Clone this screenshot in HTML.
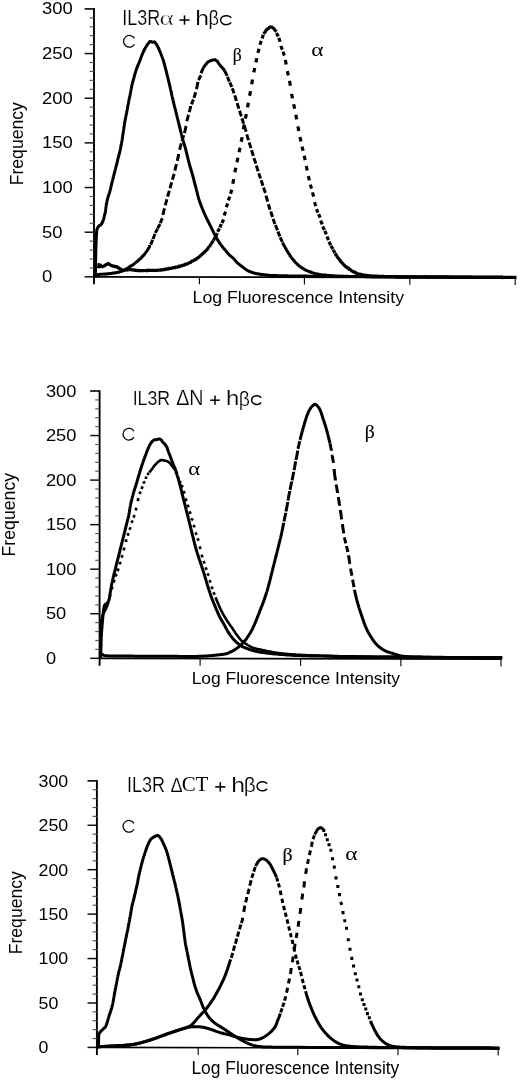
<!DOCTYPE html>
<html><head><meta charset="utf-8"><title>Flow cytometry histograms</title>
<style>html,body{margin:0;padding:0;background:#fff;}svg{display:block;will-change:transform;}</style></head>
<body><svg width="520" height="1081" viewBox="0 0 520 1081">
<rect width="520" height="1081" fill="#fff"/>
<line x1="94.0" y1="8.1" x2="94.0" y2="284.35" stroke="#000" stroke-width="1.9"/>
<line x1="94.0" y1="276.85" x2="515.8000000000001" y2="277.60" stroke="#000" stroke-width="1.6"/>
<line x1="199.4" y1="277.04" x2="199.4" y2="284.34" stroke="#000" stroke-width="1.1"/>
<line x1="304.4" y1="277.22" x2="304.4" y2="284.52" stroke="#000" stroke-width="1.1"/>
<line x1="409.8" y1="277.41" x2="409.8" y2="284.71" stroke="#000" stroke-width="1.1"/>
<line x1="515.2" y1="277.60" x2="515.2" y2="284.90" stroke="#000" stroke-width="1.1"/>
<line x1="84.6" y1="276.85" x2="94.0" y2="276.85" stroke="#111" stroke-width="1.5"/>
<line x1="89.6" y1="267.92" x2="94.0" y2="267.92" stroke="#555" stroke-width="1.15"/>
<line x1="89.6" y1="258.99" x2="94.0" y2="258.99" stroke="#555" stroke-width="1.15"/>
<line x1="89.6" y1="250.06" x2="94.0" y2="250.06" stroke="#555" stroke-width="1.15"/>
<line x1="89.6" y1="241.12" x2="94.0" y2="241.12" stroke="#555" stroke-width="1.15"/>
<line x1="84.6" y1="232.19" x2="94.0" y2="232.19" stroke="#111" stroke-width="1.5"/>
<line x1="89.6" y1="223.26" x2="94.0" y2="223.26" stroke="#555" stroke-width="1.15"/>
<line x1="89.6" y1="214.33" x2="94.0" y2="214.33" stroke="#555" stroke-width="1.15"/>
<line x1="89.6" y1="205.40" x2="94.0" y2="205.40" stroke="#555" stroke-width="1.15"/>
<line x1="89.6" y1="196.47" x2="94.0" y2="196.47" stroke="#555" stroke-width="1.15"/>
<line x1="84.6" y1="187.53" x2="94.0" y2="187.53" stroke="#111" stroke-width="1.5"/>
<line x1="89.6" y1="178.60" x2="94.0" y2="178.60" stroke="#555" stroke-width="1.15"/>
<line x1="89.6" y1="169.67" x2="94.0" y2="169.67" stroke="#555" stroke-width="1.15"/>
<line x1="89.6" y1="160.74" x2="94.0" y2="160.74" stroke="#555" stroke-width="1.15"/>
<line x1="89.6" y1="151.81" x2="94.0" y2="151.81" stroke="#555" stroke-width="1.15"/>
<line x1="84.6" y1="142.88" x2="94.0" y2="142.88" stroke="#111" stroke-width="1.5"/>
<line x1="89.6" y1="133.94" x2="94.0" y2="133.94" stroke="#555" stroke-width="1.15"/>
<line x1="89.6" y1="125.01" x2="94.0" y2="125.01" stroke="#555" stroke-width="1.15"/>
<line x1="89.6" y1="116.08" x2="94.0" y2="116.08" stroke="#555" stroke-width="1.15"/>
<line x1="89.6" y1="107.15" x2="94.0" y2="107.15" stroke="#555" stroke-width="1.15"/>
<line x1="84.6" y1="98.22" x2="94.0" y2="98.22" stroke="#111" stroke-width="1.5"/>
<line x1="89.6" y1="89.28" x2="94.0" y2="89.28" stroke="#555" stroke-width="1.15"/>
<line x1="89.6" y1="80.35" x2="94.0" y2="80.35" stroke="#555" stroke-width="1.15"/>
<line x1="89.6" y1="71.42" x2="94.0" y2="71.42" stroke="#555" stroke-width="1.15"/>
<line x1="89.6" y1="62.49" x2="94.0" y2="62.49" stroke="#555" stroke-width="1.15"/>
<line x1="84.6" y1="53.56" x2="94.0" y2="53.56" stroke="#111" stroke-width="1.5"/>
<line x1="89.6" y1="44.63" x2="94.0" y2="44.63" stroke="#555" stroke-width="1.15"/>
<line x1="89.6" y1="35.69" x2="94.0" y2="35.69" stroke="#555" stroke-width="1.15"/>
<line x1="89.6" y1="26.76" x2="94.0" y2="26.76" stroke="#555" stroke-width="1.15"/>
<line x1="89.6" y1="17.83" x2="94.0" y2="17.83" stroke="#555" stroke-width="1.15"/>
<line x1="84.6" y1="8.90" x2="94.0" y2="8.90" stroke="#111" stroke-width="1.7"/>
<g transform="translate(42.03,14.44) scale(1.0870,0.9875)"><text font-family="Liberation Sans" font-size="17">300</text></g>
<g transform="translate(42.03,59.09) scale(1.0870,0.9875)"><text font-family="Liberation Sans" font-size="17">250</text></g>
<g transform="translate(42.03,103.75) scale(1.0870,0.9875)"><text font-family="Liberation Sans" font-size="17">200</text></g>
<g transform="translate(42.03,148.41) scale(1.0870,0.9875)"><text font-family="Liberation Sans" font-size="17">150</text></g>
<g transform="translate(42.03,193.07) scale(1.0870,0.9875)"><text font-family="Liberation Sans" font-size="17">100</text></g>
<g transform="translate(42.03,237.73) scale(1.0870,0.9875)"><text font-family="Liberation Sans" font-size="17">50</text></g>
<g transform="translate(42.03,282.39) scale(1.0870,0.9875)"><text font-family="Liberation Sans" font-size="17">0</text></g>
<line x1="99.6" y1="390.2" x2="99.6" y2="665.8" stroke="#000" stroke-width="1.9"/>
<line x1="99.6" y1="658.3" x2="501.6" y2="659.10" stroke="#000" stroke-width="1.8"/>
<line x1="200.1" y1="658.50" x2="200.1" y2="665.80" stroke="#000" stroke-width="1.1"/>
<line x1="300.6" y1="658.70" x2="300.6" y2="666.00" stroke="#000" stroke-width="1.1"/>
<line x1="400.9" y1="658.90" x2="400.9" y2="666.20" stroke="#000" stroke-width="1.1"/>
<line x1="501.0" y1="659.10" x2="501.0" y2="666.40" stroke="#000" stroke-width="1.1"/>
<line x1="90.19999999999999" y1="658.30" x2="99.6" y2="658.30" stroke="#111" stroke-width="1.5"/>
<line x1="95.19999999999999" y1="649.39" x2="99.6" y2="649.39" stroke="#555" stroke-width="1.15"/>
<line x1="95.19999999999999" y1="640.48" x2="99.6" y2="640.48" stroke="#555" stroke-width="1.15"/>
<line x1="95.19999999999999" y1="631.57" x2="99.6" y2="631.57" stroke="#555" stroke-width="1.15"/>
<line x1="95.19999999999999" y1="622.66" x2="99.6" y2="622.66" stroke="#555" stroke-width="1.15"/>
<line x1="90.19999999999999" y1="613.75" x2="99.6" y2="613.75" stroke="#111" stroke-width="1.5"/>
<line x1="95.19999999999999" y1="604.84" x2="99.6" y2="604.84" stroke="#555" stroke-width="1.15"/>
<line x1="95.19999999999999" y1="595.93" x2="99.6" y2="595.93" stroke="#555" stroke-width="1.15"/>
<line x1="95.19999999999999" y1="587.02" x2="99.6" y2="587.02" stroke="#555" stroke-width="1.15"/>
<line x1="95.19999999999999" y1="578.11" x2="99.6" y2="578.11" stroke="#555" stroke-width="1.15"/>
<line x1="90.19999999999999" y1="569.20" x2="99.6" y2="569.20" stroke="#111" stroke-width="1.5"/>
<line x1="95.19999999999999" y1="560.29" x2="99.6" y2="560.29" stroke="#555" stroke-width="1.15"/>
<line x1="95.19999999999999" y1="551.38" x2="99.6" y2="551.38" stroke="#555" stroke-width="1.15"/>
<line x1="95.19999999999999" y1="542.47" x2="99.6" y2="542.47" stroke="#555" stroke-width="1.15"/>
<line x1="95.19999999999999" y1="533.56" x2="99.6" y2="533.56" stroke="#555" stroke-width="1.15"/>
<line x1="90.19999999999999" y1="524.65" x2="99.6" y2="524.65" stroke="#111" stroke-width="1.5"/>
<line x1="95.19999999999999" y1="515.74" x2="99.6" y2="515.74" stroke="#555" stroke-width="1.15"/>
<line x1="95.19999999999999" y1="506.83" x2="99.6" y2="506.83" stroke="#555" stroke-width="1.15"/>
<line x1="95.19999999999999" y1="497.92" x2="99.6" y2="497.92" stroke="#555" stroke-width="1.15"/>
<line x1="95.19999999999999" y1="489.01" x2="99.6" y2="489.01" stroke="#555" stroke-width="1.15"/>
<line x1="90.19999999999999" y1="480.10" x2="99.6" y2="480.10" stroke="#111" stroke-width="1.5"/>
<line x1="95.19999999999999" y1="471.19" x2="99.6" y2="471.19" stroke="#555" stroke-width="1.15"/>
<line x1="95.19999999999999" y1="462.28" x2="99.6" y2="462.28" stroke="#555" stroke-width="1.15"/>
<line x1="95.19999999999999" y1="453.37" x2="99.6" y2="453.37" stroke="#555" stroke-width="1.15"/>
<line x1="95.19999999999999" y1="444.46" x2="99.6" y2="444.46" stroke="#555" stroke-width="1.15"/>
<line x1="90.19999999999999" y1="435.55" x2="99.6" y2="435.55" stroke="#111" stroke-width="1.5"/>
<line x1="95.19999999999999" y1="426.64" x2="99.6" y2="426.64" stroke="#555" stroke-width="1.15"/>
<line x1="95.19999999999999" y1="417.73" x2="99.6" y2="417.73" stroke="#555" stroke-width="1.15"/>
<line x1="95.19999999999999" y1="408.82" x2="99.6" y2="408.82" stroke="#555" stroke-width="1.15"/>
<line x1="95.19999999999999" y1="399.91" x2="99.6" y2="399.91" stroke="#555" stroke-width="1.15"/>
<line x1="90.19999999999999" y1="391.00" x2="99.6" y2="391.00" stroke="#111" stroke-width="1.7"/>
<g transform="translate(45.88,396.74) scale(1.0741,0.9750)"><text font-family="Liberation Sans" font-size="17">300</text></g>
<g transform="translate(45.88,441.29) scale(1.0741,0.9750)"><text font-family="Liberation Sans" font-size="17">250</text></g>
<g transform="translate(45.88,485.84) scale(1.0741,0.9750)"><text font-family="Liberation Sans" font-size="17">200</text></g>
<g transform="translate(45.88,530.39) scale(1.0741,0.9750)"><text font-family="Liberation Sans" font-size="17">150</text></g>
<g transform="translate(45.88,574.94) scale(1.0741,0.9750)"><text font-family="Liberation Sans" font-size="17">100</text></g>
<g transform="translate(45.88,619.49) scale(1.0741,0.9750)"><text font-family="Liberation Sans" font-size="17">50</text></g>
<g transform="translate(45.88,664.04) scale(1.0741,0.9750)"><text font-family="Liberation Sans" font-size="17">0</text></g>
<line x1="96.9" y1="780.0500000000001" x2="96.9" y2="1054.9" stroke="#000" stroke-width="1.9"/>
<line x1="96.9" y1="1047.4" x2="498.8" y2="1048.30" stroke="#000" stroke-width="1.6"/>
<line x1="198.2" y1="1047.63" x2="198.2" y2="1054.93" stroke="#000" stroke-width="1.1"/>
<line x1="297.8" y1="1047.85" x2="297.8" y2="1055.15" stroke="#000" stroke-width="1.1"/>
<line x1="398.0" y1="1048.07" x2="398.0" y2="1055.37" stroke="#000" stroke-width="1.1"/>
<line x1="498.2" y1="1048.30" x2="498.2" y2="1055.60" stroke="#000" stroke-width="1.1"/>
<line x1="87.5" y1="1047.40" x2="96.9" y2="1047.40" stroke="#111" stroke-width="1.5"/>
<line x1="92.5" y1="1038.52" x2="96.9" y2="1038.52" stroke="#555" stroke-width="1.15"/>
<line x1="92.5" y1="1029.63" x2="96.9" y2="1029.63" stroke="#555" stroke-width="1.15"/>
<line x1="92.5" y1="1020.75" x2="96.9" y2="1020.75" stroke="#555" stroke-width="1.15"/>
<line x1="92.5" y1="1011.86" x2="96.9" y2="1011.86" stroke="#555" stroke-width="1.15"/>
<line x1="87.5" y1="1002.98" x2="96.9" y2="1002.98" stroke="#111" stroke-width="1.5"/>
<line x1="92.5" y1="994.09" x2="96.9" y2="994.09" stroke="#555" stroke-width="1.15"/>
<line x1="92.5" y1="985.21" x2="96.9" y2="985.21" stroke="#555" stroke-width="1.15"/>
<line x1="92.5" y1="976.32" x2="96.9" y2="976.32" stroke="#555" stroke-width="1.15"/>
<line x1="92.5" y1="967.44" x2="96.9" y2="967.44" stroke="#555" stroke-width="1.15"/>
<line x1="87.5" y1="958.55" x2="96.9" y2="958.55" stroke="#111" stroke-width="1.5"/>
<line x1="92.5" y1="949.67" x2="96.9" y2="949.67" stroke="#555" stroke-width="1.15"/>
<line x1="92.5" y1="940.78" x2="96.9" y2="940.78" stroke="#555" stroke-width="1.15"/>
<line x1="92.5" y1="931.90" x2="96.9" y2="931.90" stroke="#555" stroke-width="1.15"/>
<line x1="92.5" y1="923.01" x2="96.9" y2="923.01" stroke="#555" stroke-width="1.15"/>
<line x1="87.5" y1="914.12" x2="96.9" y2="914.12" stroke="#111" stroke-width="1.5"/>
<line x1="92.5" y1="905.24" x2="96.9" y2="905.24" stroke="#555" stroke-width="1.15"/>
<line x1="92.5" y1="896.36" x2="96.9" y2="896.36" stroke="#555" stroke-width="1.15"/>
<line x1="92.5" y1="887.47" x2="96.9" y2="887.47" stroke="#555" stroke-width="1.15"/>
<line x1="92.5" y1="878.59" x2="96.9" y2="878.59" stroke="#555" stroke-width="1.15"/>
<line x1="87.5" y1="869.70" x2="96.9" y2="869.70" stroke="#111" stroke-width="1.5"/>
<line x1="92.5" y1="860.82" x2="96.9" y2="860.82" stroke="#555" stroke-width="1.15"/>
<line x1="92.5" y1="851.93" x2="96.9" y2="851.93" stroke="#555" stroke-width="1.15"/>
<line x1="92.5" y1="843.05" x2="96.9" y2="843.05" stroke="#555" stroke-width="1.15"/>
<line x1="92.5" y1="834.16" x2="96.9" y2="834.16" stroke="#555" stroke-width="1.15"/>
<line x1="87.5" y1="825.28" x2="96.9" y2="825.28" stroke="#111" stroke-width="1.5"/>
<line x1="92.5" y1="816.39" x2="96.9" y2="816.39" stroke="#555" stroke-width="1.15"/>
<line x1="92.5" y1="807.51" x2="96.9" y2="807.51" stroke="#555" stroke-width="1.15"/>
<line x1="92.5" y1="798.62" x2="96.9" y2="798.62" stroke="#555" stroke-width="1.15"/>
<line x1="92.5" y1="789.74" x2="96.9" y2="789.74" stroke="#555" stroke-width="1.15"/>
<line x1="87.5" y1="780.85" x2="96.9" y2="780.85" stroke="#111" stroke-width="1.7"/>
<g transform="translate(38.50,786.74) scale(1.0481,0.9750)"><text font-family="Liberation Sans" font-size="17">300</text></g>
<g transform="translate(38.50,831.16) scale(1.0481,0.9750)"><text font-family="Liberation Sans" font-size="17">250</text></g>
<g transform="translate(38.50,875.59) scale(1.0481,0.9750)"><text font-family="Liberation Sans" font-size="17">200</text></g>
<g transform="translate(38.50,920.01) scale(1.0481,0.9750)"><text font-family="Liberation Sans" font-size="17">150</text></g>
<g transform="translate(38.50,964.44) scale(1.0481,0.9750)"><text font-family="Liberation Sans" font-size="17">100</text></g>
<g transform="translate(38.50,1008.86) scale(1.0481,0.9750)"><text font-family="Liberation Sans" font-size="17">50</text></g>
<g transform="translate(38.50,1053.29) scale(1.0481,0.9750)"><text font-family="Liberation Sans" font-size="17">0</text></g>
<line x1="179.4" y1="20.05" x2="189.6" y2="20.05" stroke="#000" stroke-width="1.55"/><line x1="184.5" y1="15.4" x2="184.5" y2="24.7" stroke="#000" stroke-width="1.55"/>
<path d="M231.25 17.77 A5.79 4.50 0 1 0 231.25 22.53" fill="none" stroke="#000" stroke-width="1.5"/>
<line x1="210.20000000000002" y1="400.2" x2="219.79999999999998" y2="400.2" stroke="#000" stroke-width="1.5"/><line x1="215.0" y1="395.6" x2="215.0" y2="404.7" stroke="#000" stroke-width="1.5"/>
<path d="M261.15 397.74 A5.19 4.45 0 1 0 261.15 402.46" fill="none" stroke="#000" stroke-width="1.5"/>
<line x1="215.20000000000002" y1="786.9" x2="225.39999999999998" y2="786.9" stroke="#000" stroke-width="1.6"/><line x1="220.3" y1="782.1999999999999" x2="220.3" y2="791.6" stroke="#000" stroke-width="1.6"/>
<path d="M267.05 783.81 A5.41 4.60 0 1 0 267.05 788.69" fill="none" stroke="#000" stroke-width="1.5"/>
<path d="M134.47 38.42 A5.85 5.85 0 1 0 134.47 44.27" fill="none" stroke="#000" stroke-width="1.25"/>
<path d="M133.92 431.22 A5.85 5.85 0 1 0 133.92 437.07" fill="none" stroke="#000" stroke-width="1.25"/>
<path d="M133.97 823.43 A5.85 5.85 0 1 0 133.97 829.27" fill="none" stroke="#000" stroke-width="1.25"/>
<path d="M95.4 276.2L95.4 275.3L95.4 274.4L95.4 273.6L95.4 272.7L95.5 271.8L95.5 270.9L95.5 270.1L95.5 269.2L95.5 268.3L95.5 267.4L95.5 266.5L95.5 265.6L95.6 264.7L95.6 263.8L95.6 262.9L95.6 262.0L95.6 261.0L95.6 259.9L95.7 258.8L95.7 257.7L95.7 256.6L95.7 255.5L95.8 254.4L95.8 253.3L95.8 252.1L95.8 251.0L95.9 250.0L95.9 248.9L95.9 247.9L95.9 246.9L96.0 245.9L96.0 245.0L96.0 244.4L96.0 243.7L96.1 243.1L96.1 242.5L96.1 241.9L96.1 241.4L96.2 240.8L96.2 240.2L96.2 239.7L96.2 239.1L96.2 238.6L96.3 238.1L96.3 237.6L96.3 237.0L96.4 236.5L96.4 236.0L96.4 235.6L96.5 235.1L96.5 234.7L96.5 234.2L96.5 233.8L96.5 233.4L96.5 232.9L96.6 232.5L96.6 232.1L96.6 231.7L96.7 231.3L96.7 230.9L96.8 230.5L96.8 230.2L96.9 229.8L97.0 229.5L97.1 229.3L97.1 229.0L97.2 228.8L97.3 228.6L97.4 228.4L97.5 228.1L97.6 227.9L97.7 227.7L97.8 227.5L97.9 227.3L98.0 227.2L98.1 227.0L98.2 226.8L98.3 226.6L98.5 226.5L98.6 226.3L98.7 226.2L98.9 226.0L99.0 225.9L99.2 225.8L99.3 225.7L99.5 225.6L99.6 225.5L99.8 225.5L99.9 225.4L100.1 225.3L100.3 225.2L100.4 225.1L100.6 225.0L100.7 224.9L100.9 224.7L101.0 224.6L101.2 224.4L101.3 224.2L101.4 224.0L101.6 223.8L101.7 223.6L101.8 223.4L102.0 223.2L102.1 223.0L102.2 222.7L102.3 222.5L102.5 222.2L102.6 222.0L102.7 221.8L102.8 221.5L102.9 221.3L103.0 221.0L103.1 220.7L103.2 220.4L103.3 220.1L103.4 219.8L103.5 219.4L103.6 219.1L103.7 218.7L103.8 218.4L103.9 218.1L103.9 217.7L104.0 217.4L104.1 217.0L104.2 216.7L104.3 216.4L104.3 216.1L104.4 215.8L104.5 215.6L104.5 215.4L104.6 215.2L104.6 215.0L104.7 214.8L104.7 214.6L104.8 214.4L104.8 214.2L104.9 214.0L104.9 213.8L105.0 213.6L105.0 213.4L105.1 213.2L105.1 213.0L105.2 212.7L105.2 212.5L105.3 212.1L105.4 211.6L105.4 211.2L105.5 210.7L105.6 210.1L105.6 209.6L105.7 209.1L105.8 208.5L105.9 207.9L105.9 207.4L106.0 206.8L106.1 206.3L106.2 205.7L106.2 205.2L106.3 204.7L106.4 204.2L106.5 203.8L106.5 203.4L106.6 203.0L106.7 202.7L106.8 202.3L106.8 201.9L106.9 201.6L107.0 201.2L107.1 200.8L107.2 200.5L107.2 200.1L107.3 199.8L107.4 199.4L107.5 199.0L107.6 198.7L107.7 198.3L107.8 197.9L107.9 197.5L108.0 197.1L108.2 196.7L108.3 196.3L108.4 195.9L108.6 195.5L108.7 195.1L108.8 194.7L109.0 194.3L109.1 193.8L109.2 193.4L109.4 193.0L109.5 192.6L109.6 192.1L109.8 191.7L109.9 191.2L110.0 190.7L110.1 190.2L110.3 189.7L110.4 189.2L110.5 188.6L110.7 188.1L110.8 187.6L110.9 187.0L111.0 186.5L111.2 186.0L111.3 185.4L111.4 184.9L111.5 184.4L111.7 183.8L111.8 183.3L111.9 182.8L112.1 182.3L112.2 181.7L112.3 181.2L112.5 180.7L112.6 180.2L112.7 179.7L112.8 179.1L113.0 178.6L113.1 178.1L113.2 177.6L113.4 177.1L113.5 176.6L113.6 176.0L113.8 175.5L113.9 175.0L114.0 174.5L114.2 174.0L114.3 173.4L114.4 172.9L114.6 172.4L114.7 171.9L114.8 171.4L115.0 170.9L115.1 170.3L115.2 169.8L115.3 169.3L115.5 168.8L115.6 168.3L115.7 167.7L115.9 167.2L116.0 166.7L116.1 166.2L116.3 165.7L116.4 165.1L116.5 164.6L116.7 164.1L116.8 163.6L116.9 163.0L117.1 162.5L117.2 162.0L117.3 161.4L117.4 160.9L117.6 160.4L117.7 159.9L117.8 159.3L118.0 158.8L118.1 158.3L118.2 157.8L118.4 157.3L118.5 156.7L118.6 156.2L118.8 155.7L118.9 155.2L119.0 154.7L119.2 154.2L119.3 153.6L119.4 153.1L119.6 152.6L119.7 152.1L119.8 151.6L120.0 151.0L120.1 150.5L120.2 150.0L120.3 149.5L120.4 149.0L120.5 148.4L120.6 147.9L120.7 147.4L120.8 146.9L120.9 146.4L121.0 145.9L121.1 145.3L121.2 144.8L121.3 144.3L121.4 143.8L121.5 143.3L121.6 142.7L121.7 142.2L121.8 141.7L121.9 141.2L122.0 140.7L122.1 140.1L122.1 139.6L122.2 139.1L122.3 138.6L122.4 138.0L122.5 137.5L122.6 137.0L122.6 136.5L122.7 135.9L122.8 135.4L122.9 134.9L122.9 134.3L123.0 133.8L123.1 133.3L123.2 132.8L123.3 132.3L123.3 131.7L123.4 131.2L123.5 130.7L123.6 130.1L123.6 129.6L123.7 129.1L123.8 128.5L123.9 128.0L123.9 127.5L124.0 127.0L124.1 126.5L124.2 126.0L124.2 125.5L124.3 125.0L124.4 124.6L124.4 124.2L124.5 123.9L124.5 123.5L124.6 123.1L124.7 122.8L124.7 122.4L124.8 122.1L124.8 121.8L124.9 121.4L125.0 121.1L125.0 120.7L125.1 120.3L125.2 120.0L125.2 119.6L125.3 119.2L125.4 118.7L125.5 118.2L125.6 117.7L125.7 117.2L125.8 116.7L125.9 116.2L126.0 115.6L126.1 115.1L126.2 114.6L126.4 114.0L126.5 113.5L126.6 112.9L126.7 112.4L126.8 111.9L126.9 111.3L127.0 110.8L127.1 110.3L127.2 109.8L127.3 109.2L127.4 108.7L127.5 108.2L127.6 107.7L127.7 107.2L127.7 106.6L127.8 106.1L127.9 105.6L128.0 105.1L128.1 104.6L128.2 104.1L128.3 103.5L128.4 103.0L128.5 102.5L128.6 102.0L128.7 101.5L128.8 100.9L128.9 100.4L129.0 99.9L129.1 99.4L129.2 98.9L129.3 98.4L129.5 97.8L129.6 97.3L129.7 96.8L129.8 96.3L129.9 95.8L130.0 95.2L130.1 94.7L130.2 94.2L130.3 93.7L130.4 93.2L130.5 92.6L130.6 92.1L130.7 91.6L130.8 91.0L130.9 90.5L131.0 90.0L131.1 89.5L131.2 88.9L131.3 88.4L131.4 87.9L131.5 87.4L131.6 86.8L131.7 86.3L131.8 85.8L131.9 85.3L132.0 84.8L132.2 84.3L132.3 83.8L132.4 83.3L132.5 82.8L132.7 82.3L132.8 81.8L132.9 81.3L133.1 80.8L133.2 80.3L133.3 79.8L133.5 79.3L133.6 78.8L133.8 78.3L133.9 77.8L134.0 77.3L134.2 76.8L134.3 76.3L134.5 75.8L134.6 75.2L134.7 74.7L134.9 74.2L135.0 73.7L135.2 73.2L135.3 72.7L135.5 72.2L135.6 71.7L135.8 71.1L136.0 70.6L136.1 70.1L136.3 69.6L136.5 69.1L136.7 68.5L136.9 67.9L137.1 67.4L137.3 66.8L137.6 66.3L137.8 65.7L138.0 65.1L138.2 64.6L138.5 64.0L138.7 63.5L138.9 62.9L139.2 62.4L139.4 61.9L139.6 61.3L139.8 60.8L140.0 60.3L140.2 59.9L140.3 59.4L140.5 59.0L140.7 58.5L140.8 58.1L141.0 57.7L141.1 57.2L141.3 56.8L141.5 56.3L141.6 55.9L141.8 55.5L142.0 55.1L142.1 54.6L142.3 54.2L142.5 53.8L142.7 53.4L142.9 53.0L143.0 52.6L143.2 52.2L143.4 51.8L143.6 51.4L143.8 51.0L144.0 50.6L144.2 50.2L144.3 49.9L144.5 49.5L144.7 49.1L144.9 48.8L145.1 48.4L145.3 48.0L145.5 47.7L145.7 47.4L145.8 47.1L146.0 46.8L146.2 46.5L146.3 46.3L146.5 46.0L146.7 45.7L146.8 45.4L147.0 45.2L147.2 44.9L147.4 44.7L147.5 44.4L147.7 44.2L147.9 43.9L148.0 43.7L148.2 43.5L148.3 43.3L148.4 43.2L148.6 43.0L148.7 42.8L148.8 42.7L148.9 42.5L149.1 42.3L149.2 42.2L149.3 42.0L149.4 41.9L149.5 41.8L149.7 41.7L149.8 41.6L149.9 41.5L150.1 41.4L150.2 41.4L150.3 41.4L150.5 41.4L150.6 41.4L150.7 41.5L150.9 41.5L151.0 41.6L151.2 41.7L151.3 41.8L151.5 41.9L151.6 41.9L151.8 42.0L151.9 42.1L152.1 42.2L152.2 42.2L152.4 42.3L152.5 42.3L152.6 42.3L152.7 42.3L152.9 42.3L153.0 42.2L153.1 42.2L153.2 42.1L153.4 42.1L153.5 42.0L153.6 42.0L153.7 42.0L153.8 41.9L154.0 41.9L154.1 41.9L154.2 41.9L154.3 41.9L154.4 41.9L154.5 42.0L154.7 42.0L154.8 42.1L154.9 42.2L155.0 42.4L155.2 42.5L155.3 42.6L155.4 42.8L155.5 43.0L155.6 43.1L155.7 43.3L155.8 43.5L156.0 43.7L156.1 43.8L156.2 44.0L156.3 44.2L156.4 44.4L156.6 44.7L156.7 44.9L156.9 45.2L157.0 45.4L157.2 45.7L157.3 45.9L157.5 46.2L157.6 46.5L157.8 46.8L157.9 47.1L158.0 47.4L158.2 47.6L158.3 47.9L158.5 48.2L158.6 48.5L158.7 48.8L158.9 49.1L159.0 49.4L159.2 49.8L159.3 50.1L159.5 50.4L159.6 50.7L159.8 51.1L159.9 51.4L160.1 51.7L160.2 52.1L160.3 52.4L160.5 52.8L160.6 53.1L160.8 53.5L160.9 53.8L161.0 54.2L161.2 54.5L161.3 54.9L161.5 55.3L161.6 55.7L161.8 56.0L161.9 56.4L162.1 56.8L162.2 57.2L162.4 57.6L162.5 58.0L162.6 58.4L162.8 58.8L162.9 59.2L163.1 59.6L163.2 60.0L163.4 60.5L163.5 61.0L163.7 61.5L163.8 62.0L163.9 62.5L164.1 63.1L164.2 63.6L164.4 64.1L164.5 64.7L164.7 65.2L164.8 65.8L164.9 66.3L165.1 66.9L165.2 67.4L165.4 68.0L165.5 68.5L165.6 69.1L165.8 69.6L165.9 70.2L166.1 70.8L166.2 71.3L166.4 71.9L166.5 72.5L166.7 73.1L166.8 73.6L166.9 74.2L167.1 74.8L167.2 75.4L167.4 75.9L167.5 76.5L167.7 77.1L167.8 77.7L168.0 78.3L168.1 78.9L168.3 79.5L168.4 80.2L168.6 80.8L168.7 81.4L168.9 82.0L169.0 82.7L169.2 83.3L169.3 83.9L169.5 84.5L169.6 85.2L169.8 85.8L169.9 86.4L170.1 87.1L170.2 87.7L170.3 88.3L170.5 89.0L170.6 89.6L170.8 90.3L170.9 90.9L171.1 91.6L171.2 92.2L171.4 92.9L171.5 93.5L171.6 94.2L171.8 94.8L171.9 95.5L172.1 96.1L172.2 96.8L172.4 97.4L172.5 98.0L172.6 98.6L172.8 99.1L172.9 99.7L173.0 100.2L173.2 100.8L173.3 101.3L173.4 101.9L173.5 102.4L173.7 102.9L173.8 103.5L173.9 104.0L174.1 104.6L174.2 105.1L174.3 105.6L174.5 106.2L174.6 106.7L174.7 107.2L174.9 107.7L175.0 108.3L175.1 108.8L175.3 109.3L175.4 109.8L175.5 110.3L175.7 110.9L175.8 111.4L175.9 111.9L176.0 112.4L176.2 112.9L176.3 113.4L176.4 114.0L176.6 114.5L176.7 115.0L176.8 115.5L177.0 116.0L177.1 116.6L177.2 117.1L177.3 117.6L177.5 118.1L177.6 118.6L177.7 119.1L177.9 119.7L178.0 120.2L178.1 120.7L178.2 121.2L178.4 121.7L178.5 122.3L178.6 122.8L178.8 123.3L178.9 123.8L179.0 124.3L179.1 124.9L179.3 125.4L179.4 125.9L179.5 126.4L179.6 127.0L179.8 127.5L179.9 128.0L180.0 128.6L180.2 129.1L180.3 129.6L180.4 130.1L180.5 130.7L180.7 131.2L180.8 131.7L180.9 132.2L181.1 132.7L181.2 133.3L181.3 133.8L181.4 134.3L181.6 134.8L181.7 135.3L181.8 135.9L182.0 136.4L182.1 136.9L182.2 137.4L182.3 137.9L182.5 138.4L182.6 139.0L182.8 139.5L182.9 140.0L183.0 140.5L183.2 141.0L183.4 141.6L183.5 142.1L183.7 142.6L183.8 143.1L184.0 143.6L184.2 144.1L184.3 144.7L184.5 145.2L184.6 145.7L184.8 146.2L185.0 146.7L185.1 147.3L185.3 147.8L185.4 148.3L185.5 148.8L185.7 149.3L185.8 149.9L186.0 150.4L186.1 150.9L186.2 151.4L186.3 152.0L186.5 152.5L186.6 153.0L186.7 153.5L186.9 154.1L187.0 154.6L187.1 155.1L187.2 155.7L187.4 156.2L187.5 156.7L187.6 157.2L187.8 157.7L187.9 158.3L188.0 158.8L188.1 159.3L188.3 159.8L188.4 160.3L188.5 160.9L188.7 161.4L188.8 161.9L188.9 162.4L189.0 162.9L189.2 163.4L189.3 164.0L189.5 164.5L189.6 165.0L189.7 165.5L189.9 166.0L190.0 166.6L190.2 167.1L190.4 167.6L190.5 168.1L190.7 168.6L190.8 169.1L191.0 169.6L191.2 170.2L191.3 170.7L191.5 171.2L191.6 171.7L191.8 172.2L191.9 172.8L192.1 173.3L192.3 173.9L192.4 174.4L192.6 175.0L192.7 175.6L192.9 176.1L193.0 176.7L193.2 177.3L193.3 177.9L193.5 178.5L193.6 179.0L193.8 179.6L193.9 180.2L194.1 180.8L194.2 181.4L194.4 181.9L194.5 182.5L194.6 183.1L194.8 183.6L194.9 184.2L195.1 184.7L195.2 185.3L195.4 185.8L195.5 186.3L195.7 186.9L195.8 187.4L196.0 188.0L196.1 188.5L196.2 189.1L196.4 189.6L196.5 190.1L196.7 190.7L196.8 191.2L196.9 191.7L197.1 192.2L197.2 192.7L197.3 193.2L197.4 193.6L197.5 194.1L197.6 194.6L197.7 195.1L197.9 195.6L198.0 196.0L198.1 196.5L198.2 197.0L198.4 197.5L198.5 198.0L198.6 198.5L198.8 199.0L199.0 199.6L199.2 200.2L199.4 200.8L199.6 201.4L199.8 202.0L200.0 202.6L200.3 203.3L200.5 203.9L200.7 204.5L201.0 205.1L201.2 205.7L201.4 206.4L201.7 207.0L201.9 207.6L202.2 208.2L202.4 208.8L202.6 209.4L202.9 209.9L203.1 210.5L203.3 211.1L203.6 211.6L203.8 212.2L204.1 212.7L204.3 213.3L204.5 213.9L204.8 214.4L205.0 215.0L205.3 215.5L205.5 216.1L205.8 216.6L206.0 217.2L206.3 217.7L206.6 218.2L206.8 218.8L207.1 219.3L207.4 219.9L207.6 220.4L207.9 220.9L208.2 221.5L208.4 222.0L208.7 222.5L209.0 223.0L209.3 223.6L209.5 224.1L209.8 224.6L210.1 225.2L210.3 225.7L210.6 226.2L210.9 226.7L211.1 227.2L211.3 227.7L211.6 228.2L211.8 228.7L212.1 229.3L212.3 229.8L212.6 230.3L212.8 230.8L213.0 231.3L213.3 231.8L213.5 232.3L213.8 232.8L214.0 233.2L214.3 233.7L214.5 234.2L214.7 234.6L214.9 235.0L215.2 235.5L215.4 235.9L215.6 236.3L215.8 236.7L216.1 237.1L216.3 237.5L216.5 237.9L216.7 238.3L216.9 238.7L217.2 239.1L217.4 239.4L217.6 239.8L217.9 240.2L218.1 240.6L218.3 241.0L218.6 241.3L218.8 241.7L219.0 242.1L219.3 242.4L219.5 242.8L219.7 243.1L220.0 243.5L220.2 243.8L220.4 244.2L220.7 244.5L220.9 244.9L221.2 245.2L221.4 245.5L221.7 245.9L221.9 246.2L222.1 246.5L222.4 246.8L222.6 247.1L222.9 247.4L223.1 247.7L223.3 248.0L223.6 248.3L223.8 248.6L224.1 248.8L224.3 249.1L224.6 249.4L224.8 249.7L225.1 250.0L225.3 250.2L225.6 250.5L225.8 250.8L226.0 251.1L226.3 251.3L226.5 251.6L226.7 251.9L226.9 252.1L227.1 252.4L227.4 252.7L227.6 253.0L227.8 253.2L228.0 253.5L228.2 253.7L228.5 254.0L228.7 254.3L228.9 254.5L229.2 254.8L229.4 255.0L229.6 255.2L229.9 255.5L230.1 255.7L230.4 255.9L230.7 256.1L230.9 256.3L231.2 256.5L231.5 256.8L231.7 257.0L232.0 257.2L232.2 257.4L232.5 257.6L232.8 257.8L233.0 258.0L233.3 258.3L233.5 258.5L233.7 258.7L234.0 259.0L234.2 259.2L234.4 259.5L234.6 259.7L234.8 260.0L235.0 260.3L235.3 260.5L235.5 260.8L235.7 261.0L235.9 261.3L236.1 261.5L236.3 261.8L236.5 262.0L236.8 262.3L237.0 262.5L237.2 262.7L237.5 262.9L237.7 263.1L237.9 263.3L238.2 263.5L238.4 263.7L238.6 263.9L238.9 264.1L239.1 264.3L239.4 264.5L239.6 264.7L239.8 264.9L240.1 265.0L240.3 265.2L240.6 265.4L240.8 265.6L241.0 265.8L241.3 266.0L241.5 266.2L241.7 266.3L242.0 266.5L242.2 266.7L242.5 266.9L242.7 267.1L242.9 267.3L243.2 267.4L243.4 267.6L243.6 267.8L243.9 268.0L244.1 268.2L244.4 268.3L244.6 268.5L244.8 268.7L245.1 268.8L245.3 269.0L245.5 269.2L245.8 269.3L246.0 269.5L246.2 269.7L246.5 269.8L246.7 270.0L247.0 270.1L247.2 270.3L247.5 270.4L247.7 270.6L248.0 270.7L248.2 270.9L248.5 271.0L248.8 271.2L249.1 271.3L249.5 271.4L249.8 271.6L250.1 271.7L250.5 271.8L250.8 272.0L251.2 272.1L251.5 272.2L251.9 272.3L252.2 272.5L252.6 272.6L252.9 272.7L253.3 272.8L253.6 272.9L254.0 273.0L254.4 273.1L254.7 273.2L255.1 273.3L255.4 273.4L255.8 273.4L256.2 273.5L256.5 273.6L256.9 273.7L257.2 273.7L257.6 273.8L258.0 273.9L258.4 273.9L258.8 274.0L259.2 274.1L259.6 274.1L260.0 274.2L260.5 274.3L261.1 274.4L261.7 274.4L262.2 274.5L262.8 274.6L263.4 274.7L264.0 274.7L264.6 274.8L265.2 274.9L265.9 275.0L266.5 275.0L267.2 275.1L267.9 275.1L268.6 275.2L269.3 275.2L270.0 275.3L271.0 275.4L272.1 275.4L273.2 275.5L274.3 275.5L275.4 275.6L276.6 275.6L277.8 275.7L279.0 275.7L280.3 275.7L281.5 275.7L282.9 275.8L284.2 275.8L285.6 275.8L287.0 275.8L288.5 275.9L290.0 275.9L292.5 275.9L295.1 276.0L297.8 276.0L300.6 276.1L303.6 276.1L306.6 276.1L309.7 276.2L312.9 276.2L316.1 276.2L319.4 276.2L322.8 276.3L326.1 276.3L329.6 276.3L333.0 276.3L336.5 276.4L340.0 276.4L344.5 276.4L349.1 276.5L353.7 276.5L358.5 276.6L363.4 276.6L368.3 276.6L373.3 276.7L378.4 276.7L383.5 276.8L388.7 276.8L393.9 276.8L399.1 276.9L404.3 276.9L409.5 276.9L414.8 277.0L420.0 277.0L425.7 277.0L431.5 277.1L437.3 277.1L443.2 277.1L449.1 277.1L455.0 277.2L461.0 277.2L467.0 277.2L473.0 277.2L479.0 277.3L485.0 277.3L491.1 277.3L497.1 277.3L503.1 277.4L509.0 277.4L515.0 277.4" fill="none" stroke="#000" stroke-width="3.0" stroke-linejoin="round" stroke-linecap="round" />
<path d="M96.1 274.6L96.8 274.6 M98.5 274.5L99.2 274.4 M100.9 274.3L101.6 274.3L101.7 274.3 M103.2 274.2L104.0 274.1L104.1 274.1 M105.6 274.0L106.4 273.9 M108.0 273.8L108.8 273.7 M110.4 273.5L111.2 273.4 M112.9 273.2L113.6 273.1 M115.2 272.8L115.9 272.7 M117.7 272.4L118.4 272.2 M120.1 271.7L120.8 271.5 M122.5 271.0L123.2 270.7 M124.8 269.9L125.6 269.5L125.7 269.4 M127.3 268.5L127.9 268.0L128.0 268.0 M129.6 266.8L130.3 266.4L130.4 266.3 M132.1 265.3L132.8 264.8L132.9 264.8 M134.4 263.7L135.0 263.2L135.2 263.0 M136.8 261.7L137.4 261.2L137.7 261.0 M139.3 259.5L139.9 258.9L140.1 258.8 M141.7 257.3L142.3 256.7L142.4 256.5 M144.0 254.8L144.5 254.2L144.8 253.8 M146.4 251.7L146.9 251.0L147.3 250.4 M148.8 247.9L149.2 247.3L149.6 246.6L149.6 246.5 M151.3 243.2L151.6 242.5L151.9 241.8L152.1 241.2 M153.6 237.5L153.9 236.7L154.2 236.0L154.4 235.4 M156.0 231.8L156.4 231.1L156.7 230.5L156.9 230.1 M158.4 227.0L158.7 226.4L159.0 225.7L159.3 225.3 M160.8 221.8L161.1 221.1L161.4 220.3L161.6 219.6L161.7 219.5 M163.2 213.5L163.4 212.8L163.5 212.1L163.7 211.3L163.9 210.6L164.0 209.9L164.1 209.7 M165.6 203.8L165.8 203.1L166.0 202.5L166.2 201.8L166.4 201.1L166.5 200.7 M168.0 195.2L168.2 194.4L168.5 193.6L168.7 192.8L168.9 192.2 M170.4 186.8L170.6 186.1L170.8 185.4L171.0 184.7L171.2 184.0L171.3 183.7 M172.8 178.3L173.0 177.6L173.2 176.9L173.4 176.2L173.6 175.5L173.7 175.3 M175.2 169.2L175.4 168.4L175.5 167.7L175.7 167.0L175.9 166.3L176.1 165.6 M177.6 159.5L177.8 158.7L178.0 157.9L178.1 157.2L178.3 156.5L178.5 155.7L178.5 155.6 M180.0 148.3L180.2 147.6L180.3 146.9L180.5 146.2L180.7 145.5L180.9 144.8 M182.4 139.5L182.6 138.8L182.8 138.0L183.1 137.3L183.3 136.6 M184.8 131.6L185.0 130.8L185.2 130.0L185.4 129.2L185.5 128.5L185.6 127.8L185.7 127.5 M187.2 119.8L187.4 119.0L187.6 118.3L187.8 117.6L187.9 116.8L188.1 116.3 M189.6 110.6L189.8 109.9L190.0 109.1L190.2 108.4L190.5 107.7L190.5 107.6 M192.0 103.0L192.3 102.3L192.5 101.6L192.8 101.0L192.9 100.8 M194.4 96.5L194.6 95.8L194.8 95.1L195.1 94.4L195.3 93.7 M196.8 87.7L197.0 86.9L197.1 86.1L197.3 85.3L197.4 84.6L197.6 83.8L197.7 83.4 M199.2 78.8L199.5 78.2L199.7 77.5L200.0 76.8L200.1 76.7 M201.6 71.9L201.9 71.2L202.1 70.6L202.4 69.8L202.5 69.6 M204.0 66.9L204.5 66.3L204.8 65.8 M206.5 63.6L207.0 62.9L207.3 62.6 M208.9 61.5L209.5 61.2L209.7 61.1 M211.2 60.6L211.9 60.4L212.1 60.3 M213.6 59.9L214.4 59.8L214.5 59.8 M216.0 60.3L216.6 60.7L216.9 60.9 M218.4 63.0L218.8 63.6L219.2 64.2L219.3 64.3 M220.8 66.1L221.3 66.7L221.7 67.1 M223.2 68.8L223.8 69.5L224.0 69.8 M225.6 72.6L226.0 73.4L226.3 74.1L226.5 74.5 M228.0 78.1L228.3 78.9L228.6 79.6L228.8 80.2 M230.4 83.8L230.7 84.5L231.0 85.1L231.2 85.6 M232.8 89.7L233.1 90.3L233.3 91.0L233.5 91.6L233.6 92.0 M235.2 96.8L235.4 97.4L235.6 98.1L235.8 98.8L236.1 99.5L236.1 99.6 M237.6 104.5L237.8 105.2L238.0 105.8L238.2 106.5L238.5 107.2L238.5 107.3 M240.0 112.2L240.2 112.9L240.4 113.6L240.6 114.2L240.8 114.9L240.9 115.0 M242.4 119.8L242.7 120.6L242.9 121.3L243.2 122.0L243.2 122.2 M244.8 127.3L245.0 128.0L245.2 128.7L245.4 129.4L245.6 130.1L245.7 130.3 M247.2 135.9L247.4 136.6L247.6 137.3L247.8 138.0L248.0 138.6L248.1 138.8 M249.6 143.8L249.8 144.5L250.1 145.2L250.3 145.9L250.5 146.6 M252.0 151.7L252.2 152.4L252.4 153.1L252.7 153.8L252.9 154.5 M254.4 159.5L254.7 160.2L254.9 160.8L255.1 161.5L255.3 162.2 M256.8 167.0L257.1 167.9L257.3 168.7L257.6 169.5L257.7 169.9 M259.2 174.6L259.5 175.4L259.7 176.1L260.0 176.8L260.1 177.1 M261.6 181.6L261.8 182.3L262.1 182.9L262.3 183.6L262.5 184.3 M264.0 188.9L264.3 189.7L264.5 190.5L264.8 191.3L264.9 191.5 M266.4 197.1L266.6 197.8L266.8 198.6L267.1 199.4L267.2 200.1L267.3 200.3 M268.8 205.6L269.0 206.4L269.3 207.1L269.5 207.8L269.6 208.3 M271.2 212.9L271.4 213.6L271.7 214.3L271.9 215.0L272.1 215.6 M273.6 220.3L273.9 221.0L274.1 221.7L274.4 222.5 M276.0 226.4L276.3 227.2L276.6 228.0L276.9 228.8 M278.4 232.9L278.7 233.7L279.0 234.4L279.3 235.0 M280.8 238.6L281.1 239.3L281.5 240.1L281.7 240.5 M283.2 243.8L283.6 244.6L283.9 245.3L284.1 245.6 M285.6 248.3L286.0 249.0L286.4 249.7 M288.0 252.4L288.4 253.1L288.8 253.7L288.9 253.8 M290.4 256.1L290.9 256.7L291.2 257.2 M292.8 259.3L293.3 259.9L293.7 260.3 M295.2 262.2L295.8 262.8L296.0 263.0 M297.6 264.5L298.2 265.1L298.5 265.3 M300.0 266.5L300.6 266.9L300.8 267.1 M302.4 268.1L303.0 268.5L303.2 268.6 M304.8 269.6L305.5 269.9L305.6 270.0 M307.3 270.8L308.0 271.1 M309.7 271.8L310.3 272.1L310.5 272.1 M312.1 272.7L312.8 272.9 M314.4 273.4L315.2 273.6 M316.9 274.0L317.6 274.1 M319.3 274.5L320.0 274.6 M321.7 274.9L322.4 274.9 M324.1 275.1L324.9 275.2 M326.5 275.3L327.2 275.4 M328.9 275.5L329.6 275.6 M331.2 275.7L332.0 275.7L332.1 275.7 M333.7 275.8L334.5 275.9 M336.0 276.0L336.8 276.0 M338.4 276.1L339.2 276.1L339.3 276.1 M340.9 276.2L341.7 276.2 M343.3 276.2L344.0 276.3L344.1 276.3 M345.6 276.3L346.4 276.3 M348.1 276.4L348.8 276.4L348.9 276.4 M350.4 276.4L351.2 276.4L351.3 276.4 M352.8 276.5L353.6 276.5L353.7 276.5 M355.2 276.5L356.0 276.5L356.1 276.5 M357.6 276.5L358.4 276.6L358.5 276.6 M360.0 276.6L360.7 276.6L360.8 276.6 M362.5 276.6L363.2 276.6 M364.8 276.6L365.5 276.6L365.6 276.6 M367.3 276.7L368.0 276.7 M369.6 276.7L370.3 276.7L370.4 276.7 M372.1 276.7L372.8 276.7 M374.5 276.7L375.2 276.7 M376.9 276.7L377.6 276.7L377.7 276.7 M379.3 276.8L380.0 276.8L380.1 276.8 M381.6 276.8L382.4 276.8L382.5 276.8 M384.0 276.8L384.7 276.8L384.8 276.8 M386.4 276.8L387.1 276.8L387.2 276.8 M388.8 276.8L389.5 276.8L389.6 276.8 M391.2 276.8L391.9 276.8L392.0 276.8 M393.6 276.8L394.3 276.8L394.4 276.8 M396.1 276.9L396.8 276.9L396.9 276.9 M398.5 276.9L399.2 276.9L399.3 276.9 M400.9 276.9L401.6 276.9 M403.2 276.9L403.9 276.9L404.0 276.9 M405.6 276.9L406.4 276.9L406.5 276.9 M408.0 276.9L408.8 276.9L408.9 276.9 M410.4 276.9L411.2 276.9L411.3 276.9 M412.8 277.0L413.5 277.0L413.6 277.0 M415.3 277.0L416.0 277.0L416.1 277.0 M417.7 277.0L418.4 277.0 M420.0 277.0L420.7 277.0L420.8 277.0 M422.4 277.0L423.2 277.0L423.3 277.0 M424.8 277.0L425.5 277.0L425.6 277.0 M427.3 277.0L428.0 277.1 M429.7 277.1L430.4 277.1 M432.0 277.1L432.7 277.1L432.8 277.1 M434.4 277.1L435.2 277.1L435.3 277.1 M436.9 277.1L437.6 277.1L437.7 277.1 M439.3 277.1L440.0 277.1 M441.6 277.1L442.3 277.1L442.5 277.1 M444.1 277.1L444.8 277.1 M446.4 277.1L447.2 277.1L447.3 277.1 M448.8 277.2L449.5 277.2L449.6 277.2 M451.3 277.2L452.0 277.2 M453.7 277.2L454.4 277.2L454.5 277.2 M456.0 277.2L456.8 277.2L456.9 277.2 M458.4 277.2L459.2 277.2L459.3 277.2 M460.8 277.2L461.6 277.2L461.7 277.2 M463.3 277.2L464.0 277.2L464.1 277.2 M465.7 277.2L466.4 277.2L466.5 277.2 M468.0 277.2L468.7 277.2L468.8 277.2 M470.4 277.2L471.1 277.2L471.2 277.2 M472.8 277.2L473.5 277.2L473.6 277.2 M475.3 277.3L476.0 277.3L476.1 277.3 M477.7 277.3L478.4 277.3L478.5 277.3 M480.1 277.3L480.8 277.3L480.9 277.3 M482.4 277.3L483.1 277.3L483.2 277.3 M484.8 277.3L485.5 277.3L485.6 277.3 M487.3 277.3L488.0 277.3L488.1 277.3 M489.7 277.3L490.4 277.3L490.5 277.3 M492.1 277.3L492.8 277.3 M494.4 277.3L495.1 277.3L495.2 277.3 M496.8 277.3L497.5 277.3L497.6 277.3 M499.2 277.3L499.9 277.3L500.0 277.3 M501.6 277.3L502.3 277.4L502.4 277.4 M504.0 277.4L504.7 277.4L504.8 277.4 M506.5 277.4L507.2 277.4 M508.9 277.4L509.6 277.4 M511.3 277.4L512.0 277.4 M513.7 277.4L514.4 277.4L514.5 277.4" fill="none" stroke="#000" stroke-width="3.0" stroke-linejoin="round" stroke-linecap="square"/>
<path d="M98.7 266.6L98.8 265.8L98.9 265.0L99.0 264.7 M100.9 265.8L101.1 266.1 M102.9 266.5L103.1 266.4 M105.0 265.5L105.2 265.3 M107.2 264.1L107.4 264.0 M109.3 264.1L109.5 264.3 M111.3 265.4L111.5 265.5 M113.5 266.1L113.6 266.1 M115.6 266.7L115.7 266.7 M117.7 267.5L117.8 267.6 M119.7 268.5L119.9 268.6 M121.8 269.6L122.0 269.7 M123.9 270.1L124.2 270.1 M126.1 269.9L126.3 269.9 M128.2 269.7L128.4 269.6 M130.3 269.6L130.5 269.6 M132.3 269.8L132.6 269.8 M134.4 270.1L134.7 270.1 M136.5 270.4L136.8 270.4 M138.7 270.6L138.8 270.6 M140.8 270.6L141.0 270.6 M142.9 270.6L143.0 270.6 M145.0 270.5L145.2 270.5 M147.1 270.5L147.2 270.4 M149.2 270.4L149.3 270.4 M151.3 270.4L151.4 270.4 M153.3 270.3L153.6 270.3 M155.4 270.3L155.7 270.3 M157.5 270.3L157.8 270.2 M159.7 270.1L159.9 270.1 M161.8 269.9L161.9 269.9 M163.9 269.6L164.0 269.6 M166.0 269.2L166.2 269.2 M168.1 268.8L168.2 268.8 M170.1 268.4L170.4 268.4 M172.2 268.1L172.5 268.0 M174.4 267.6L174.5 267.6 M176.5 267.1L176.6 267.1 M178.6 266.6L178.7 266.5 M180.7 266.0L180.9 265.9 M182.8 265.4L183.0 265.3 M184.9 264.7L185.0 264.6 M186.9 264.0L187.2 263.9 M189.0 263.0L189.2 262.9 M191.1 261.9L191.3 261.7 M193.3 260.7L193.5 260.6 M195.3 259.5L195.6 259.4 M197.4 258.1L197.7 257.9 M199.6 256.4L199.7 256.3 M201.7 254.6L201.8 254.5 M203.8 252.7L203.9 252.6 M205.8 250.8L206.0 250.6 M208.0 248.3L208.1 248.1 M210.1 245.6L210.2 245.3 M212.1 242.4L212.4 242.0 M214.2 239.0L214.4 238.6 M216.3 235.1L216.6 234.6 M218.4 230.4L218.7 229.9 M220.5 226.0L220.7 225.5 M222.6 221.6L222.9 221.0 M224.7 214.0L224.9 213.3L225.0 213.1 M226.8 205.7L227.0 205.1L227.1 204.9 M228.9 198.8L229.2 198.1 M231.0 192.2L231.2 191.5L231.3 191.2 M233.1 182.2L233.3 181.4L233.4 180.7 M235.2 170.7L235.4 169.9L235.5 169.3 M237.3 160.7L237.5 160.0L237.6 159.3 M239.4 150.7L239.5 150.0L239.7 149.3 M241.5 140.2L241.7 139.4L241.8 138.7 M243.6 127.6L243.7 126.9L243.8 126.2L243.9 126.0 M245.7 117.1L245.9 116.4L246.0 115.7 M247.8 105.8L248.0 105.0L248.1 104.3 M249.9 94.2L250.1 93.4L250.2 92.7 M252.0 82.6L252.1 81.9L252.3 81.1L252.3 81.0 M254.1 70.9L254.3 70.1L254.4 69.6 M256.2 60.9L256.4 60.1L256.5 59.7 M258.3 51.4L258.5 50.6L258.6 50.3 M260.4 43.2L260.7 42.4 M262.6 36.9L262.8 36.3 M264.6 32.6L264.9 32.2 M266.7 29.7L266.9 29.5 M268.9 27.9L269.0 27.8 M271.0 27.0L271.1 27.0 M273.0 28.0L273.3 28.2 M275.1 30.3L275.4 30.6 M277.2 34.4L277.5 35.0 M279.3 39.4L279.6 40.2 M281.4 47.4L281.6 48.2L281.7 48.3 M283.5 53.2L283.7 53.9L283.8 54.1 M285.6 61.5L285.8 62.3L285.9 63.0 M287.7 72.7L287.9 73.5L288.0 73.9 M289.8 82.4L290.0 83.2L290.1 84.0L290.1 84.2 M291.9 95.4L292.1 96.1L292.2 96.8 M294.0 105.8L294.2 106.5L294.3 107.1 M296.1 116.3L296.2 117.1L296.4 117.9 M298.2 127.9L298.4 128.7L298.5 129.4 M300.3 138.6L300.5 139.3L300.6 139.9 M302.4 148.1L302.6 148.9L302.7 149.2 M304.5 157.3L304.7 158.0L304.8 158.5 M306.6 167.6L306.8 168.3L306.9 168.9 M308.7 177.6L308.9 178.4L309.0 178.8 M310.8 186.2L311.0 186.9L311.1 187.1 M312.9 193.9L313.1 194.7L313.2 195.0 M315.0 203.7L315.2 204.4L315.3 204.6 M317.1 210.7L317.3 211.2 M319.2 215.5L319.5 216.2 M321.3 222.2L321.6 222.9 M323.4 227.9L323.7 228.5 M325.5 232.3L325.7 232.8 M327.6 237.9L327.9 238.5 M329.7 243.2L330.0 243.8 M331.8 247.2L332.1 247.7 M333.9 251.1L334.2 251.6 M336.0 254.8L336.3 255.2 M338.1 258.0L338.4 258.3 M340.2 260.7L340.4 261.0 M342.3 263.1L342.6 263.4 M344.4 265.3L344.6 265.5 M346.5 267.2L346.8 267.4 M348.7 268.6L348.8 268.8 M350.8 270.1L350.9 270.2 M352.8 271.4L353.0 271.5 M355.0 272.5L355.1 272.6 M357.0 273.4L357.3 273.6 M359.2 274.2L359.4 274.2 M361.3 274.7L361.4 274.7 M363.3 275.1L363.5 275.1 M365.5 275.4L365.7 275.4 M367.6 275.7L367.8 275.7 M369.6 275.9L369.8 275.9 M371.7 276.0L371.9 276.0 M373.9 276.1L374.0 276.1 M376.0 276.2L376.1 276.2 M378.0 276.3L378.2 276.3 M380.2 276.4L380.4 276.4 M382.2 276.4L382.4 276.4 M384.3 276.5L384.5 276.5 M386.5 276.5L386.7 276.5 M388.6 276.6L388.8 276.6 M390.7 276.6L390.8 276.6 M392.8 276.7L393.0 276.7 M394.9 276.7L395.0 276.7 M396.9 276.8L397.2 276.8 M399.1 276.8L399.2 276.8 M401.1 276.8L401.4 276.8 M403.3 276.9L403.5 276.9 M405.3 276.9L405.5 276.9 M407.4 276.9L407.7 276.9 M409.5 276.9L409.7 276.9 M411.6 276.9L411.8 276.9 M413.8 276.9L413.9 276.9 M415.9 277.0L416.1 277.0 M417.9 277.0L418.1 277.0 M420.0 277.0L420.2 277.0 M422.1 277.0L422.3 277.0 M424.3 277.0L424.5 277.0 M426.3 277.0L426.5 277.1 M428.5 277.1L428.7 277.1 M430.5 277.1L430.8 277.1 M432.6 277.1L432.8 277.1 M434.8 277.1L435.0 277.1 M436.8 277.1L437.0 277.1 M439.0 277.1L439.2 277.1 M441.0 277.1L441.2 277.1 M443.2 277.1L443.4 277.1 M445.3 277.2L445.4 277.2 M447.3 277.2L447.6 277.2 M449.4 277.2L449.6 277.2 M451.5 277.2L451.7 277.2 M453.7 277.2L453.9 277.2 M455.7 277.2L455.9 277.2 M457.9 277.2L458.1 277.2 M459.9 277.2L460.1 277.2 M462.0 277.2L462.2 277.2 M464.2 277.2L464.4 277.2 M466.2 277.2L466.4 277.2 M468.4 277.2L468.6 277.2 M470.4 277.2L470.6 277.2 M472.6 277.3L472.8 277.3 M474.6 277.3L474.9 277.3 M476.7 277.3L476.9 277.3 M478.9 277.3L479.0 277.3 M481.0 277.3L481.2 277.3 M483.1 277.3L483.3 277.3 M485.1 277.3L485.3 277.3 M487.2 277.3L487.4 277.3 M489.4 277.3L489.6 277.3 M491.4 277.3L491.7 277.3 M493.5 277.3L493.7 277.3 M495.7 277.3L495.9 277.3 M497.7 277.3L497.9 277.3 M499.8 277.3L500.0 277.3 M502.0 277.3L502.2 277.4 M504.0 277.4L504.2 277.4 M506.2 277.4L506.4 277.4 M508.2 277.4L508.5 277.4 M510.4 277.4L510.6 277.4 M512.4 277.4L512.6 277.4 M514.6 277.4L514.8 277.4" fill="none" stroke="#000" stroke-width="3.2" stroke-linejoin="round" stroke-linecap="square"/>
<path d="M100.4 656.5L100.4 656.3L100.4 656.1L100.5 655.9L100.5 655.7L100.5 655.5L100.5 655.4L100.5 655.2L100.6 655.0L100.6 654.8L100.6 654.6L100.6 654.4L100.6 654.2L100.6 654.0L100.7 653.8L100.7 653.5L100.7 653.3L100.7 653.0L100.7 652.6L100.8 652.2L100.8 651.8L100.8 651.5L100.8 651.1L100.8 650.7L100.9 650.2L100.9 649.8L100.9 649.4L100.9 648.9L100.9 648.5L100.9 648.1L101.0 647.6L101.0 647.2L101.0 646.7L101.0 646.1L101.0 645.5L101.1 645.0L101.1 644.3L101.1 643.7L101.1 643.1L101.1 642.5L101.1 641.8L101.1 641.2L101.2 640.5L101.2 639.9L101.2 639.2L101.2 638.6L101.2 638.0L101.3 637.3L101.3 636.7L101.3 636.1L101.4 635.4L101.4 634.8L101.4 634.2L101.5 633.5L101.5 632.9L101.6 632.3L101.6 631.6L101.7 631.0L101.7 630.4L101.8 629.7L101.8 629.1L101.9 628.5L101.9 627.9L102.0 627.3L102.0 626.7L102.0 626.2L102.1 625.7L102.1 625.1L102.2 624.6L102.2 624.1L102.3 623.6L102.3 623.1L102.3 622.6L102.4 622.1L102.4 621.6L102.5 621.1L102.5 620.6L102.6 620.1L102.6 619.7L102.7 619.2L102.7 618.7L102.7 618.3L102.8 617.8L102.8 617.4L102.8 617.0L102.9 616.5L102.9 616.1L103.0 615.7L103.0 615.2L103.0 614.8L103.1 614.4L103.1 614.0L103.1 613.6L103.2 613.2L103.2 612.8L103.3 612.4L103.3 612.0L103.3 611.7L103.4 611.4L103.4 611.0L103.4 610.7L103.5 610.4L103.5 610.1L103.5 609.8L103.6 609.5L103.6 609.2L103.7 608.9L103.7 608.7L103.8 608.4L103.8 608.1L103.9 607.8L103.9 607.6L104.0 607.3L104.1 607.1L104.1 606.9L104.2 606.7L104.3 606.4L104.3 606.2L104.4 606.0L104.5 605.8L104.5 605.6L104.6 605.4L104.7 605.2L104.8 605.1L104.9 604.9L105.0 604.7L105.1 604.6L105.2 604.4L105.3 604.3L105.4 604.2L105.5 604.1L105.6 604.1L105.7 604.0L105.8 603.9L105.9 603.9L106.0 603.8L106.1 603.8L106.3 603.7L106.4 603.7L106.5 603.6L106.6 603.6L106.7 603.5L106.8 603.4L106.9 603.4L107.0 603.3L107.1 603.2L107.2 603.1L107.3 603.0L107.4 602.9L107.5 602.8L107.5 602.7L107.6 602.6L107.7 602.5L107.8 602.4L107.9 602.3L107.9 602.1L108.0 602.0L108.1 601.9L108.2 601.8L108.2 601.6L108.3 601.5L108.4 601.3L108.5 601.2L108.5 601.0L108.6 600.8L108.7 600.7L108.7 600.5L108.8 600.3L108.8 600.1L108.9 600.0L109.0 599.8L109.0 599.6L109.1 599.4L109.1 599.2L109.2 599.0L109.2 598.7L109.3 598.5L109.4 598.1L109.5 597.7L109.5 597.3L109.6 596.9L109.7 596.4L109.8 596.0L109.8 595.5L109.9 595.0L110.0 594.5L110.0 594.0L110.1 593.5L110.2 593.0L110.3 592.5L110.3 592.0L110.4 591.5L110.5 591.0L110.6 590.4L110.7 589.9L110.8 589.3L110.9 588.7L111.0 588.1L111.1 587.6L111.2 587.0L111.3 586.4L111.4 585.8L111.5 585.2L111.6 584.6L111.7 584.0L111.8 583.4L112.0 582.8L112.1 582.3L112.2 581.7L112.3 581.2L112.4 580.6L112.6 580.1L112.7 579.6L112.8 579.0L112.9 578.5L113.1 578.0L113.2 577.5L113.3 576.9L113.5 576.4L113.6 575.9L113.7 575.4L113.9 574.9L114.0 574.3L114.1 573.8L114.2 573.3L114.4 572.8L114.5 572.3L114.6 571.7L114.8 571.2L114.9 570.7L115.0 570.2L115.1 569.7L115.3 569.1L115.4 568.6L115.5 568.1L115.7 567.6L115.8 567.1L115.9 566.6L116.0 566.0L116.2 565.5L116.3 565.0L116.4 564.5L116.6 564.0L116.7 563.4L116.8 562.9L117.0 562.4L117.1 561.9L117.2 561.4L117.3 560.9L117.5 560.3L117.6 559.8L117.7 559.3L117.9 558.8L118.0 558.3L118.1 557.7L118.3 557.2L118.4 556.7L118.5 556.2L118.7 555.7L118.8 555.1L118.9 554.6L119.1 554.1L119.2 553.6L119.3 553.0L119.5 552.5L119.6 552.0L119.7 551.4L119.8 550.9L120.0 550.4L120.1 549.9L120.2 549.3L120.4 548.8L120.5 548.3L120.6 547.8L120.8 547.3L120.9 546.7L121.0 546.2L121.2 545.7L121.3 545.2L121.4 544.7L121.5 544.1L121.7 543.6L121.8 543.1L121.9 542.6L122.1 542.1L122.2 541.6L122.3 541.0L122.5 540.5L122.6 540.0L122.7 539.5L122.9 539.0L123.0 538.4L123.1 537.9L123.3 537.4L123.4 536.9L123.5 536.4L123.7 535.9L123.8 535.3L123.9 534.8L124.0 534.3L124.2 533.8L124.3 533.3L124.4 532.7L124.6 532.2L124.7 531.7L124.8 531.2L125.0 530.7L125.1 530.1L125.2 529.6L125.3 529.1L125.5 528.6L125.6 528.0L125.7 527.5L125.9 527.0L126.0 526.4L126.1 525.9L126.2 525.4L126.4 524.9L126.5 524.3L126.6 523.8L126.8 523.3L126.9 522.8L127.0 522.3L127.1 521.7L127.3 521.2L127.4 520.7L127.5 520.2L127.7 519.7L127.8 519.2L127.9 518.7L128.1 518.1L128.2 517.6L128.3 517.1L128.5 516.6L128.6 516.1L128.7 515.5L128.8 515.0L128.9 514.4L129.0 513.9L129.1 513.3L129.2 512.7L129.3 512.2L129.4 511.6L129.5 511.0L129.6 510.4L129.7 509.9L129.7 509.3L129.8 508.7L129.9 508.2L130.0 507.6L130.1 507.1L130.2 506.5L130.3 506.0L130.4 505.6L130.5 505.1L130.6 504.7L130.7 504.3L130.7 503.9L130.8 503.5L130.9 503.1L131.0 502.7L131.1 502.3L131.2 501.9L131.3 501.5L131.4 501.1L131.5 500.7L131.6 500.3L131.7 499.9L131.8 499.5L131.9 499.1L132.0 498.6L132.1 498.2L132.2 497.8L132.3 497.3L132.4 496.9L132.5 496.5L132.7 496.0L132.8 495.6L132.9 495.1L133.0 494.7L133.1 494.3L133.2 493.8L133.3 493.4L133.5 492.9L133.6 492.5L133.7 492.0L133.9 491.6L134.0 491.1L134.2 490.6L134.3 490.2L134.5 489.7L134.6 489.2L134.8 488.8L134.9 488.3L135.1 487.8L135.2 487.4L135.4 486.9L135.6 486.4L135.7 486.0L135.9 485.5L136.0 485.0L136.1 484.5L136.3 484.0L136.4 483.5L136.6 483.0L136.7 482.5L136.9 482.0L137.0 481.5L137.2 481.0L137.3 480.5L137.5 480.0L137.6 479.4L137.7 478.9L137.9 478.5L138.0 478.0L138.2 477.5L138.3 477.0L138.4 476.6L138.6 476.2L138.7 475.7L138.8 475.3L138.9 474.9L139.1 474.5L139.2 474.1L139.3 473.7L139.4 473.3L139.6 472.9L139.7 472.5L139.8 472.1L139.9 471.7L140.1 471.3L140.2 470.9L140.3 470.5L140.4 470.1L140.5 469.7L140.7 469.4L140.8 469.0L140.9 468.6L141.0 468.2L141.1 467.8L141.2 467.5L141.4 467.1L141.5 466.7L141.6 466.3L141.7 466.0L141.8 465.6L142.0 465.2L142.1 464.9L142.2 464.5L142.3 464.1L142.4 463.8L142.6 463.4L142.7 463.1L142.8 462.7L142.9 462.4L143.1 462.0L143.2 461.7L143.3 461.3L143.4 461.0L143.6 460.6L143.7 460.3L143.8 459.9L144.0 459.6L144.1 459.2L144.2 458.9L144.3 458.6L144.4 458.2L144.6 457.9L144.7 457.6L144.8 457.3L144.9 456.9L145.0 456.6L145.1 456.3L145.3 455.9L145.4 455.6L145.5 455.3L145.6 455.0L145.7 454.7L145.9 454.3L146.0 454.0L146.1 453.7L146.2 453.4L146.3 453.1L146.4 452.8L146.6 452.5L146.7 452.2L146.8 451.9L146.9 451.6L147.0 451.3L147.1 451.0L147.2 450.7L147.3 450.4L147.5 450.1L147.6 449.8L147.7 449.5L147.9 449.2L148.0 448.9L148.2 448.5L148.3 448.1L148.5 447.8L148.7 447.4L148.9 446.9L149.0 446.5L149.2 446.1L149.4 445.7L149.6 445.3L149.8 444.9L150.0 444.5L150.2 444.1L150.4 443.8L150.7 443.4L150.9 443.1L151.1 442.8L151.3 442.6L151.5 442.3L151.6 442.1L151.8 441.9L152.0 441.7L152.2 441.5L152.4 441.3L152.6 441.1L152.8 440.9L153.0 440.7L153.2 440.5L153.4 440.4L153.6 440.2L153.8 440.1L154.0 440.0L154.2 439.9L154.3 439.8L154.5 439.8L154.6 439.8L154.8 439.7L154.9 439.7L155.1 439.7L155.2 439.7L155.3 439.7L155.5 439.7L155.6 439.7L155.8 439.7L155.9 439.7L156.1 439.7L156.2 439.7L156.4 439.7L156.5 439.7L156.7 439.7L156.8 439.6L157.0 439.6L157.2 439.5L157.3 439.5L157.5 439.4L157.7 439.3L157.9 439.3L158.0 439.2L158.2 439.2L158.4 439.1L158.6 439.1L158.7 439.0L158.9 439.0L159.0 439.0L159.2 439.0L159.3 439.0L159.5 439.0L159.6 439.1L159.7 439.1L159.8 439.1L160.0 439.2L160.1 439.2L160.2 439.3L160.3 439.3L160.4 439.4L160.6 439.4L160.7 439.5L160.8 439.6L160.9 439.6L161.0 439.7L161.1 439.8L161.2 439.9L161.3 440.0L161.4 440.1L161.5 440.3L161.6 440.4L161.7 440.5L161.8 440.7L161.9 440.8L161.9 441.0L162.0 441.1L162.1 441.3L162.2 441.4L162.3 441.6L162.4 441.7L162.5 441.9L162.6 442.0L162.7 442.1L162.9 442.3L163.0 442.4L163.1 442.6L163.3 442.7L163.4 442.9L163.6 443.0L163.7 443.1L163.9 443.3L164.1 443.4L164.2 443.6L164.4 443.7L164.5 443.9L164.6 444.0L164.8 444.2L164.9 444.3L165.0 444.4L165.1 444.6L165.2 444.7L165.3 444.8L165.4 445.0L165.6 445.1L165.7 445.3L165.8 445.4L165.9 445.5L165.9 445.7L166.0 445.8L166.1 446.0L166.2 446.1L166.3 446.3L166.4 446.4L166.5 446.6L166.6 446.8L166.7 447.0L166.8 447.2L166.9 447.5L167.0 447.7L167.1 447.9L167.2 448.2L167.3 448.4L167.3 448.7L167.4 448.9L167.5 449.2L167.6 449.4L167.7 449.7L167.8 450.0L167.9 450.2L168.0 450.5L168.1 450.8L168.3 451.2L168.4 451.6L168.5 451.9L168.7 452.3L168.8 452.7L169.0 453.1L169.1 453.5L169.3 453.9L169.4 454.2L169.6 454.6L169.7 455.0L169.9 455.4L170.0 455.8L170.2 456.2L170.3 456.6L170.4 457.0L170.6 457.4L170.7 457.8L170.9 458.2L171.0 458.5L171.2 458.9L171.3 459.3L171.4 459.7L171.6 460.1L171.7 460.5L171.9 460.9L172.0 461.3L172.2 461.7L172.3 462.0L172.5 462.4L172.6 462.8L172.7 463.1L172.9 463.5L173.0 463.8L173.2 464.2L173.3 464.5L173.5 464.8L173.6 465.2L173.8 465.5L173.9 465.8L174.1 466.2L174.2 466.5L174.4 466.8L174.5 467.2L174.6 467.5L174.8 467.9L174.9 468.2L175.0 468.6L175.2 468.9L175.3 469.3L175.4 469.6L175.5 470.0L175.7 470.4L175.8 470.7L175.9 471.1L176.0 471.5L176.1 471.8L176.2 472.2L176.3 472.6L176.5 472.9L176.6 473.3L176.7 473.6L176.8 474.0L176.9 474.3L177.0 474.7L177.1 475.0L177.2 475.4L177.3 475.7L177.4 476.0L177.5 476.3L177.7 476.7L177.8 477.0L177.9 477.3L178.0 477.7L178.1 478.0L178.2 478.4L178.3 478.7L178.4 479.1L178.5 479.5L178.6 480.0L178.8 480.5L178.9 481.0L179.1 481.6L179.2 482.1L179.4 482.7L179.5 483.2L179.6 483.8L179.8 484.4L179.9 484.9L180.1 485.5L180.2 486.1L180.4 486.6L180.5 487.2L180.7 487.8L180.8 488.3L180.9 488.8L181.1 489.4L181.2 489.9L181.3 490.4L181.5 490.9L181.6 491.5L181.7 492.0L181.9 492.5L182.0 493.0L182.1 493.6L182.2 494.1L182.4 494.6L182.5 495.1L182.6 495.7L182.8 496.2L182.9 496.7L183.0 497.2L183.2 497.7L183.3 498.3L183.4 498.8L183.6 499.3L183.7 499.8L183.8 500.3L183.9 500.9L184.1 501.4L184.2 501.9L184.3 502.4L184.5 502.9L184.6 503.4L184.7 504.0L184.9 504.5L185.0 505.0L185.1 505.5L185.3 506.0L185.4 506.6L185.5 507.1L185.7 507.6L185.8 508.1L185.9 508.6L186.1 509.1L186.2 509.7L186.3 510.2L186.4 510.7L186.6 511.2L186.7 511.7L186.8 512.3L187.0 512.8L187.1 513.3L187.2 513.8L187.4 514.3L187.5 514.9L187.6 515.4L187.8 515.9L187.9 516.4L188.0 517.0L188.2 517.5L188.3 518.0L188.4 518.6L188.5 519.1L188.7 519.6L188.8 520.1L188.9 520.7L189.1 521.2L189.2 521.7L189.3 522.2L189.5 522.7L189.6 523.3L189.7 523.8L189.8 524.3L190.0 524.8L190.1 525.3L190.2 525.9L190.4 526.4L190.5 526.9L190.6 527.4L190.7 527.9L190.9 528.4L191.0 529.0L191.1 529.5L191.2 530.0L191.4 530.5L191.5 531.0L191.6 531.6L191.8 532.1L191.9 532.6L192.0 533.1L192.1 533.6L192.3 534.1L192.4 534.7L192.5 535.2L192.7 535.7L192.8 536.2L192.9 536.7L193.0 537.3L193.2 537.8L193.3 538.3L193.4 538.8L193.6 539.3L193.7 539.9L193.8 540.4L193.9 540.9L194.1 541.5L194.2 542.0L194.3 542.5L194.5 543.0L194.6 543.6L194.7 544.1L194.8 544.6L195.0 545.1L195.1 545.7L195.3 546.2L195.4 546.7L195.5 547.2L195.7 547.7L195.8 548.3L196.0 548.8L196.2 549.3L196.3 549.9L196.5 550.4L196.6 550.9L196.8 551.4L196.9 551.9L197.1 552.5L197.3 553.0L197.4 553.5L197.6 554.0L197.7 554.5L197.9 555.0L198.0 555.5L198.2 555.9L198.3 556.3L198.5 556.8L198.6 557.2L198.8 557.7L198.9 558.1L199.0 558.5L199.2 559.0L199.3 559.4L199.5 559.8L199.6 560.2L199.8 560.7L199.9 561.1L200.1 561.6L200.2 562.0L200.4 562.5L200.5 562.9L200.7 563.4L200.8 563.9L201.0 564.3L201.2 564.8L201.3 565.3L201.5 565.7L201.7 566.2L201.8 566.7L202.0 567.1L202.1 567.6L202.3 568.1L202.5 568.6L202.6 569.1L202.8 569.6L203.0 570.2L203.2 570.7L203.3 571.3L203.5 571.9L203.7 572.5L203.9 573.1L204.1 573.7L204.3 574.3L204.4 574.9L204.6 575.5L204.8 576.2L205.0 576.8L205.2 577.4L205.3 578.0L205.5 578.6L205.7 579.2L205.9 579.8L206.1 580.4L206.2 581.0L206.4 581.6L206.6 582.2L206.8 582.8L206.9 583.4L207.1 584.0L207.3 584.6L207.5 585.2L207.7 585.8L207.8 586.4L208.0 587.0L208.2 587.6L208.4 588.2L208.6 588.8L208.8 589.4L209.0 590.0L209.2 590.6L209.4 591.2L209.6 591.8L209.8 592.4L210.0 593.1L210.2 593.7L210.4 594.3L210.6 594.9L210.8 595.5L211.0 596.1L211.2 596.7L211.5 597.3L211.7 597.9L211.9 598.5L212.1 599.1L212.4 599.7L212.6 600.3L212.8 600.9L213.1 601.5L213.3 602.1L213.6 602.7L213.8 603.3L214.1 603.9L214.3 604.5L214.6 605.1L214.8 605.7L215.1 606.3L215.3 606.9L215.6 607.5L215.8 608.1L216.0 608.7L216.3 609.2L216.5 609.8L216.7 610.3L217.0 610.8L217.2 611.4L217.4 611.9L217.6 612.5L217.9 613.0L218.1 613.5L218.4 614.1L218.6 614.6L218.8 615.1L219.1 615.7L219.3 616.2L219.6 616.7L219.9 617.2L220.1 617.7L220.4 618.2L220.6 618.7L220.9 619.1L221.2 619.6L221.5 620.1L221.7 620.6L222.0 621.0L222.3 621.5L222.6 622.0L222.9 622.5L223.2 622.9L223.4 623.4L223.7 623.9L224.0 624.4L224.3 624.9L224.6 625.5L224.9 626.0L225.2 626.5L225.5 627.1L225.7 627.6L226.0 628.2L226.3 628.7L226.6 629.3L226.9 629.8L227.2 630.4L227.5 630.9L227.8 631.4L228.1 632.0L228.5 632.5L228.8 633.0L229.1 633.5L229.5 634.0L229.8 634.5L230.1 634.9L230.5 635.4L230.8 635.9L231.2 636.4L231.5 636.8L231.9 637.3L232.3 637.7L232.6 638.2L233.0 638.6L233.4 639.1L233.7 639.5L234.1 639.9L234.5 640.3L234.8 640.7L235.2 641.0L235.5 641.4L235.9 641.7L236.2 642.0L236.6 642.4L237.0 642.7L237.3 643.0L237.7 643.3L238.0 643.6L238.4 643.9L238.8 644.2L239.2 644.5L239.5 644.8L239.9 645.0L240.3 645.3L240.7 645.5L241.0 645.8L241.4 646.0L241.8 646.2L242.1 646.4L242.5 646.6L242.9 646.8L243.3 646.9L243.6 647.1L244.0 647.3L244.4 647.5L244.8 647.6L245.2 647.8L245.6 648.0L246.1 648.1L246.5 648.3L247.0 648.5L247.6 648.7L248.1 648.9L248.7 649.1L249.3 649.3L249.8 649.5L250.4 649.7L251.0 649.9L251.6 650.1L252.2 650.3L252.9 650.5L253.5 650.7L254.1 650.8L254.7 651.0L255.4 651.1L256.0 651.3L256.7 651.5L257.4 651.6L258.2 651.8L258.9 651.9L259.6 652.0L260.4 652.2L261.1 652.3L261.9 652.4L262.7 652.5L263.4 652.6L264.2 652.7L265.0 652.8L265.8 652.9L266.5 653.0L267.3 653.1L268.1 653.2L268.9 653.3L269.7 653.4L270.6 653.5L271.4 653.6L272.2 653.7L273.1 653.8L273.9 653.8L274.8 653.9L275.6 654.0L276.4 654.1L277.3 654.1L278.1 654.2L279.0 654.3L279.8 654.4L280.7 654.4L281.5 654.5L282.3 654.6L283.2 654.6L284.0 654.7L284.8 654.8L285.6 654.8L286.4 654.9L287.2 654.9L288.0 655.0L288.8 655.1L289.6 655.1L290.5 655.2L291.3 655.2L292.2 655.3L293.1 655.3L294.0 655.4L295.0 655.4L296.3 655.5L297.7 655.5L299.1 655.6L300.6 655.6L302.1 655.7L303.6 655.7L305.1 655.8L306.7 655.8L308.2 655.8L309.9 655.9L311.5 655.9L313.2 656.0L314.8 656.0L316.5 656.0L318.3 656.1L320.0 656.1L322.2 656.1L324.6 656.2L326.9 656.2L329.3 656.3L331.8 656.3L334.3 656.4L336.9 656.4L339.4 656.4L342.0 656.5L344.6 656.5L347.2 656.5L349.8 656.6L352.4 656.6L354.9 656.6L357.5 656.7L360.0 656.7L362.5 656.7L364.9 656.8L367.2 656.8L369.6 656.8L371.9 656.8L374.2 656.9L376.5 656.9L378.9 656.9L381.2 656.9L383.7 657.0L386.2 657.0L388.7 657.0L391.4 657.0L394.1 657.1L397.0 657.1L400.0 657.1L405.1 657.1L410.4 657.2L416.1 657.2L422.0 657.2L428.2 657.3L434.5 657.3L441.0 657.3L447.6 657.4L454.3 657.4L461.1 657.4L467.9 657.4L474.7 657.5L481.4 657.5L488.1 657.5L494.6 657.6L501.0 657.6" fill="none" stroke="#000" stroke-width="3.0" stroke-linejoin="round" stroke-linecap="round" />
<path d="M100.2 656.0L100.2 655.3L100.2 654.6L100.2 653.9L100.2 653.2L100.2 652.5L100.2 651.7L100.2 651.0L100.2 650.3L100.2 649.6L100.2 648.9L100.2 648.2L100.2 647.4L100.2 646.7L100.2 646.0L100.2 645.3L100.3 644.5L100.3 643.7L100.3 642.9L100.3 642.1L100.3 641.4L100.3 640.6L100.3 639.9L100.3 639.1L100.3 638.4L100.3 637.7L100.3 636.9L100.3 636.2L100.4 635.5L100.4 634.8L100.4 634.1L100.4 633.3L100.4 632.6L100.4 631.8L100.5 631.1L100.5 630.4L100.5 629.7L100.5 629.0L100.6 628.1L100.6 627.4L100.7 626.6L100.7 625.8L100.8 625.1L100.9 624.3L100.9 623.6L101.0 622.8L101.1 622.1L101.2 621.4L101.3 620.7L101.4 619.9L101.6 619.2L101.8 618.4L102.0 617.6L102.2 616.8L102.5 616.1L102.8 615.3L103.0 614.6L103.3 613.9L103.6 613.2L104.0 612.5L104.3 611.8L104.7 611.1L105.1 610.4L105.5 609.7L105.9 609.0L106.2 608.3L106.5 607.6L106.8 606.9L107.1 606.2L107.3 605.5L107.6 604.7L107.9 604.0L108.1 603.4 M110.0 596.2L110.1 595.8 M112.0 588.1L112.1 587.8 M114.0 581.3L114.1 581.1 M116.0 575.3L116.1 575.2 M118.0 569.9L118.1 569.7 M120.0 563.2L120.1 563.1 M122.0 556.5L122.1 556.3 M124.0 549.1L124.1 548.8 M126.0 540.6L126.1 540.6 M128.0 534.5L128.1 534.3 M130.0 528.6L130.1 528.4 M132.0 521.7L132.1 521.6 M134.0 516.4L134.1 516.2 M136.0 509.3L136.1 509.0 M138.0 499.8L138.1 499.4 M140.0 492.8L140.1 492.7 M142.0 487.8L142.1 487.6 M144.0 482.4L144.1 482.3 M146.0 477.7L146.0 477.7 M148.1 473.9L148.1 473.9 M150.1 471.4L150.6 470.8L151.0 470.3L151.5 469.7L151.9 469.1L152.4 468.5L152.8 467.9L153.2 467.3L153.6 466.7L154.0 466.2L154.6 465.5L155.1 464.9L155.6 464.3L156.1 463.7L156.7 463.2L157.2 462.7L157.8 462.2L158.4 461.7L159.0 461.2L159.6 460.8L160.2 460.4L160.9 460.1L161.7 460.0L162.4 460.1L163.1 460.3L163.8 460.4L164.5 460.6L165.2 460.7L165.9 460.8L166.6 461.0L167.3 461.3L168.0 461.6L168.6 462.1L169.2 462.5L169.7 463.0L170.2 463.5L170.6 464.1L171.1 464.8L171.5 465.4L172.0 466.0L172.5 466.6L173.0 467.2L173.4 467.8L173.9 468.5L174.1 468.7 M176.1 472.8L176.1 472.8 M178.0 477.6L178.1 477.8 M180.1 482.2L180.1 482.2 M182.0 486.1L182.1 486.2 M184.0 492.2L184.1 492.4 M186.0 499.6L186.1 499.8 M188.0 505.9L188.1 506.1 M190.0 512.5L190.1 512.7 M192.0 519.3L192.1 519.4 M194.0 526.1L194.1 526.2 M196.0 533.5L196.1 533.7 M198.0 539.4L198.1 539.6 M200.0 547.6L200.1 547.9 M202.0 555.9L202.1 556.2 M204.0 562.2L204.1 562.4 M206.0 568.5L206.1 568.7 M208.0 574.5L208.1 574.6 M210.0 581.3L210.1 581.5 M212.0 587.7L212.1 587.8 M214.0 593.4L214.1 593.6 M216.0 598.6L216.4 599.4L216.6 600.1L216.9 600.8L217.2 601.4L217.5 602.1L217.7 602.8L218.0 603.5L218.3 604.1L218.6 604.8L218.9 605.5L219.2 606.2L219.5 606.9L219.8 607.5L220.2 608.3L220.5 609.0L220.8 609.6L221.2 610.3L221.5 611.0L221.8 611.7L222.2 612.3L222.5 613.0L222.9 613.6L223.2 614.3L223.6 615.0L224.0 615.6L224.4 616.3L224.8 617.0L225.2 617.7L225.6 618.4L226.0 619.0L226.4 619.7L226.9 620.4L227.3 621.0L227.7 621.7L228.1 622.3L228.5 622.9L229.0 623.5L229.4 624.1L229.8 624.7L230.2 625.3L230.7 625.9L231.1 626.5L231.6 627.1L232.0 627.7L232.4 628.3L232.8 628.9L233.2 629.5L233.6 630.2L234.1 630.9L234.5 631.5L234.9 632.2L235.4 632.8L235.8 633.5L236.2 634.1L236.7 634.8L237.1 635.3L237.5 635.9L238.1 636.6L238.5 637.2L239.0 637.7L239.4 638.3L239.9 638.8L240.5 639.5L241.0 640.1L241.6 640.7L242.2 641.2L242.8 641.7L243.4 642.2L244.0 642.6L244.7 643.1L245.4 643.5L246.0 643.9L246.7 644.3L247.3 644.8L248.0 645.2L248.7 645.7L249.5 646.1L250.1 646.4L250.7 646.8L251.4 647.1L252.1 647.4L252.8 647.7L253.6 647.9L254.3 648.1L255.1 648.4L255.9 648.6L256.6 648.7L257.3 648.9L258.0 649.1L258.7 649.2L259.4 649.4L260.2 649.5L260.9 649.7L261.6 649.8L262.3 650.0L263.0 650.2L263.7 650.3L264.4 650.5L265.1 650.6L265.8 650.8L266.4 650.9L267.1 651.1L267.9 651.2L268.6 651.4L269.3 651.5L270.0 651.6L270.7 651.8L271.4 651.9L272.1 652.0L272.8 652.2L273.6 652.3L274.3 652.4L275.0 652.5L275.8 652.7L276.5 652.8L277.3 652.9L278.0 653.0L278.8 653.1L279.6 653.2L280.3 653.3L281.1 653.4L281.8 653.5L282.6 653.5L283.4 653.6L284.2 653.7L285.0 653.8L285.7 653.9L286.5 653.9L287.2 654.0L287.9 654.1L288.7 654.1L289.4 654.2L290.1 654.2L290.8 654.3L291.6 654.4L292.3 654.4L293.0 654.5L293.7 654.5L294.4 654.6L295.1 654.6L295.9 654.6L296.6 654.7L297.3 654.7L298.1 654.8L298.8 654.8L299.6 654.8L300.4 654.9L301.2 654.9L301.9 655.0L302.7 655.0L303.5 655.0L304.3 655.1L305.0 655.1L305.7 655.1L306.5 655.2L307.2 655.2L307.9 655.2L308.7 655.2L309.4 655.3L310.1 655.3L310.9 655.3L311.6 655.4L312.4 655.4L313.2 655.4L313.9 655.5L314.6 655.5L315.3 655.5L316.0 655.5L316.7 655.6L317.5 655.6L318.2 655.6L318.9 655.6L319.7 655.7L320.4 655.7L321.2 655.7L321.9 655.7L322.7 655.7L323.5 655.8L324.2 655.8L325.0 655.8L325.7 655.8L326.4 655.9L327.1 655.9L327.8 655.9L328.6 655.9L329.3 655.9L330.0 655.9L330.7 656.0L331.4 656.0L332.2 656.0L332.9 656.0L333.6 656.0L334.3 656.1L335.1 656.1L335.8 656.1L336.6 656.1L337.3 656.1L338.0 656.1L338.8 656.2L339.5 656.2L340.2 656.2L341.0 656.2L341.7 656.2L342.5 656.2L343.2 656.3L344.0 656.3L344.7 656.3L345.4 656.3L346.2 656.3L346.9 656.3L347.7 656.4L348.4 656.4L349.2 656.4L349.9 656.4L350.6 656.4L351.4 656.4L352.1 656.4L352.9 656.5L353.6 656.5L354.4 656.5L355.1 656.5L355.9 656.5L356.6 656.5L357.3 656.5L358.1 656.5L358.8 656.6L359.6 656.6L360.3 656.6L361.1 656.6L361.8 656.6L362.6 656.6L363.3 656.6L364.0 656.6L364.8 656.6L365.5 656.7L366.3 656.7L367.0 656.7L367.8 656.7L368.5 656.7L369.3 656.7L370.1 656.7L370.8 656.7L371.6 656.7L372.3 656.7L373.0 656.7L373.7 656.8L374.4 656.8L375.1 656.8L375.8 656.8L376.5 656.8L377.2 656.8L378.0 656.8L378.7 656.8L379.4 656.8L380.2 656.8L380.9 656.8L381.6 656.8L382.4 656.8L383.1 656.9L383.9 656.9L384.6 656.9L385.3 656.9L386.0 656.9L386.8 656.9L387.5 656.9L388.2 656.9L388.9 656.9L389.6 656.9L390.4 656.9L391.1 656.9L391.8 656.9L392.6 656.9L393.3 656.9L394.1 656.9L394.8 657.0L395.5 657.0L396.2 657.0L396.9 657.0L397.6 657.0L398.3 657.0L399.1 657.0L399.8 657.0L400.5 657.0L401.2 657.0L401.9 657.0L402.6 657.0L403.3 657.0L404.1 657.0L404.8 657.0L405.5 657.0L406.2 657.0L407.0 657.1L407.7 657.1L408.4 657.1L409.1 657.1L409.8 657.1L410.5 657.1L411.2 657.1L411.9 657.1L412.6 657.1L413.3 657.1L414.1 657.1L414.8 657.1L415.5 657.1L416.2 657.1L416.9 657.1L417.6 657.1L418.4 657.1L419.1 657.1L419.8 657.1L420.6 657.1L421.3 657.1L422.0 657.1L422.7 657.2L423.4 657.2L424.1 657.2L424.8 657.2L425.5 657.2L426.3 657.2L427.0 657.2L427.7 657.2L428.4 657.2L429.1 657.2L429.8 657.2L430.5 657.2L431.2 657.2L431.9 657.2L432.7 657.2L433.4 657.2L434.1 657.2L434.8 657.2L435.5 657.2L436.2 657.2L436.9 657.2L437.7 657.2L438.4 657.2L439.1 657.2L439.8 657.2L440.6 657.2L441.3 657.2L442.0 657.2L442.7 657.3L443.4 657.3L444.1 657.3L444.8 657.3L445.5 657.3L446.2 657.3L446.9 657.3L447.6 657.3L448.3 657.3L449.0 657.3L449.7 657.3L450.4 657.3L451.1 657.3L451.9 657.3L452.6 657.3L453.3 657.3L454.0 657.3L454.7 657.3L455.4 657.3L456.1 657.3L456.9 657.3L457.6 657.3L458.3 657.3L459.0 657.3L459.7 657.3L460.5 657.3L461.2 657.3L461.9 657.3L462.6 657.3L463.3 657.3L464.0 657.3L464.8 657.3L465.5 657.3L466.2 657.3L466.9 657.4L467.6 657.4L468.4 657.4L469.1 657.4L469.8 657.4L470.5 657.4L471.2 657.4L472.0 657.4L472.7 657.4L473.4 657.4L474.1 657.4L474.8 657.4L475.5 657.4L476.3 657.4L477.0 657.4L477.7 657.4L478.4 657.4L479.1 657.4L479.8 657.4L480.5 657.4L481.3 657.4L482.0 657.4L482.7 657.4L483.4 657.4L484.1 657.4L484.8 657.4L485.5 657.4L486.2 657.4L486.9 657.4L487.6 657.4L488.3 657.4L489.0 657.4L489.7 657.4L490.4 657.5L491.2 657.5L491.9 657.5L492.6 657.5L493.3 657.5L494.1 657.5L494.8 657.5L495.5 657.5L496.2 657.5L496.9 657.5L497.6 657.5L498.4 657.5L499.1 657.5L499.8 657.5L500.5 657.5L501.0 657.5" fill="none" stroke="#000" stroke-width="2.6" stroke-linejoin="round" stroke-linecap="square"/>
<path d="M100.3 656.3L100.7 655.7L101.1 655.1L101.6 654.5L102.3 654.3L102.9 654.7L103.4 655.2L104.1 655.4L104.9 655.6L105.6 655.7L106.4 655.8L107.1 655.8L107.8 655.9L108.6 655.9L109.3 656.0L110.1 656.0L110.8 656.0L111.6 656.0L112.3 656.0L113.1 656.1L113.9 656.1L114.6 656.1L115.3 656.1L116.1 656.1L116.8 656.1L117.6 656.1L118.3 656.1L119.1 656.1L119.9 656.1L120.6 656.1L121.4 656.1L122.2 656.1L123.0 656.1L123.7 656.1L124.5 656.1L125.3 656.1L126.1 656.1L126.8 656.1L127.6 656.1L128.3 656.1L129.1 656.1L129.8 656.1L130.6 656.1L131.3 656.1L132.0 656.1L132.7 656.1L133.5 656.1L134.2 656.2L134.9 656.2L135.7 656.2L136.5 656.2L137.2 656.2L138.0 656.2L138.8 656.2L139.5 656.2L140.2 656.2L140.9 656.2L141.7 656.2L142.4 656.2L143.1 656.2L143.8 656.2L144.5 656.2L145.2 656.2L146.0 656.2L146.7 656.2L147.4 656.3L148.2 656.3L148.9 656.3L149.6 656.3L150.3 656.3L151.1 656.3L151.8 656.3L152.5 656.3L153.3 656.3L154.0 656.3L154.7 656.3L155.5 656.3L156.2 656.3L156.9 656.3L157.6 656.3L158.4 656.3L159.1 656.3L159.8 656.3L160.5 656.3L161.2 656.3L161.9 656.3L162.6 656.3L163.3 656.3L164.1 656.3L164.9 656.3L165.7 656.3L166.4 656.3L167.2 656.3L167.9 656.3L168.6 656.3L169.4 656.3L170.1 656.3L170.8 656.3L171.5 656.3L172.2 656.3L172.9 656.3L173.7 656.3L174.4 656.3L175.1 656.3L175.8 656.3L176.5 656.3L177.3 656.3L178.0 656.3L178.7 656.3L179.4 656.4L180.1 656.4L180.8 656.4L181.6 656.4L182.3 656.4L183.0 656.4L183.7 656.4L184.4 656.4L185.1 656.4L185.9 656.4L186.7 656.4L187.5 656.4L188.3 656.4L189.0 656.4L189.8 656.4L190.5 656.4L191.3 656.4L192.0 656.4L192.7 656.4L193.4 656.4L194.2 656.4L195.0 656.4L195.8 656.4L196.5 656.4L197.3 656.4L198.0 656.3L198.8 656.3L199.6 656.3L200.3 656.3L201.1 656.3L201.8 656.2L202.6 656.2L203.4 656.2L204.2 656.1L204.9 656.1L205.6 656.0L206.5 656.0L207.3 655.9L208.0 655.9L208.8 655.8L209.6 655.7L210.4 655.7L211.1 655.6L211.9 655.5L212.6 655.5L213.3 655.4L214.1 655.3L214.8 655.3L215.6 655.2L216.4 655.1L217.2 655.0L217.9 654.9L218.6 654.8L219.3 654.8L220.1 654.7L220.8 654.6L221.6 654.5L222.3 654.4L223.0 654.3L223.7 654.2L224.6 654.1L225.3 654.0L226.1 653.8L226.9 653.5L227.5 653.3L228.3 653.0L229.0 652.7L229.7 652.3L230.4 652.0L231.1 651.7L231.8 651.4L232.5 651.1L233.1 650.7L233.8 650.4L234.4 650.0L235.1 649.5L235.7 649.1L236.3 648.7L236.9 648.2L237.5 647.8L238.1 647.3L238.7 646.9L239.3 646.4L239.8 645.9L240.4 645.4L240.9 644.8L241.5 644.3L242.0 643.7L242.5 643.2L243.0 642.7L243.5 642.2L244.1 641.6L244.6 641.1L245.1 640.5L245.6 639.9L246.1 639.3L246.5 638.7L246.9 638.1L247.3 637.4L247.8 636.8L248.2 636.1L248.6 635.5L249.0 634.8L249.4 634.2L249.9 633.5L250.3 632.9L250.7 632.2L251.1 631.5L251.5 630.7L251.9 630.0L252.2 629.4L252.6 628.7L252.9 628.0L253.2 627.3L253.5 626.6L253.8 625.9L254.2 625.1L254.5 624.4L254.8 623.7L255.1 623.0L255.4 622.3L255.7 621.6L256.0 620.9L256.2 620.2L256.5 619.5L256.8 618.8L257.1 618.1L257.4 617.4L257.6 616.7L257.9 616.0L258.2 615.3L258.5 614.5L258.8 613.8L259.1 613.0L259.4 612.3L259.6 611.5L259.9 610.8L260.2 610.0L260.5 609.3L260.8 608.6L261.1 607.9L261.3 607.2L261.6 606.5L261.9 605.8L262.2 605.1L262.5 604.4L262.8 603.6L263.0 602.9L263.3 602.2L263.5 601.5L263.8 600.8L264.1 600.1L264.3 599.4L264.6 598.6L264.8 597.9L265.1 597.1L265.3 596.4L265.6 595.6L265.8 594.9L266.1 594.2L266.3 593.4L266.5 592.7L266.8 592.0L267.0 591.3L267.2 590.5L267.4 589.8L267.6 589.1L267.8 588.4L268.0 587.6L268.2 586.9L268.4 586.2L268.6 585.4L268.8 584.7L269.0 584.0L269.2 583.2L269.4 582.5L269.6 581.8L269.7 581.0L269.9 580.3L270.1 579.6L270.3 578.8L270.5 578.1L270.6 577.4L270.8 576.6L271.0 575.9L271.2 575.2L271.4 574.5L271.6 573.7L271.7 573.0L271.9 572.3L272.1 571.6L272.3 570.8L272.5 570.1L272.7 569.4L272.8 568.7L273.0 567.9L273.2 567.2L273.4 566.5L273.6 565.7L273.8 565.0L273.9 564.3L274.1 563.6L274.3 562.8L274.5 562.1L274.7 561.4L274.9 560.7L275.0 559.9L275.2 559.2L275.4 558.4L275.6 557.7L275.8 557.0L276.0 556.2L276.2 555.5L276.3 554.8L276.5 554.0L276.7 553.3L276.9 552.6L277.1 551.8L277.2 551.1L277.4 550.4L277.6 549.7L277.8 548.9L278.0 548.2L278.1 547.5L278.3 546.8L278.5 546.0L278.7 545.3L278.9 544.6L279.0 543.9L279.2 543.1L279.4 542.4L279.6 541.7L279.8 541.0L279.9 540.2L280.1 539.5L280.3 538.8L280.5 538.0L280.7 537.3L280.8 536.6L281.0 535.9L281.2 535.2L281.3 534.4L281.5 533.7L281.6 533.0L281.8 532.3L281.9 531.6L282.1 530.9L282.3 530.1L282.4 529.4L282.6 528.7L282.7 528.0L282.8 527.3L283.0 526.6L283.1 525.9L283.3 525.2L283.4 524.5L283.5 523.8L283.7 523.1L283.7 522.8 M284.0 521.5L284.1 520.8L284.3 520.1L284.4 519.4L284.6 518.7L284.7 518.0L284.8 517.3L285.0 516.6L285.1 515.9L285.3 515.2L285.4 514.5L285.5 513.8L285.7 513.1L285.7 512.8 M286.0 511.5L286.1 510.7L286.3 510.0L286.4 509.2L286.6 508.5L286.7 507.8L286.8 507.0L287.0 506.3L287.1 505.5L287.3 504.8L287.4 504.0L287.5 503.2L287.7 502.4L287.7 502.1 M288.0 500.6L288.1 499.8L288.3 499.0L288.4 498.2L288.6 497.4L288.7 496.6L288.8 495.8L289.0 495.1L289.1 494.4L289.3 493.6L289.4 492.9L289.6 492.2L289.7 491.4L289.7 491.1 M290.0 489.9L290.2 489.1L290.3 488.4L290.5 487.6L290.6 486.9L290.8 486.1L290.9 485.4L291.1 484.6L291.2 483.9L291.4 483.2L291.5 482.5L291.7 481.8L291.7 481.6 M292.0 480.3L292.2 479.6L292.3 478.9L292.5 478.1L292.6 477.4L292.8 476.7L292.9 476.0L293.1 475.2L293.2 474.5L293.4 473.7L293.5 472.9L293.7 472.1L293.7 471.7 M294.0 470.2L294.2 469.4L294.3 468.6L294.5 467.8L294.6 467.0L294.8 466.2L294.9 465.5L295.0 464.8L295.2 464.1L295.3 463.3L295.5 462.7L295.6 461.8L295.7 461.4 M296.0 460.0L296.2 459.2L296.3 458.6L296.4 457.8L296.6 457.1L296.7 456.4L296.9 455.6L297.0 454.9L297.1 454.1L297.3 453.3L297.4 452.5L297.5 451.7L297.7 450.9L297.7 450.5 M298.0 448.9L298.2 448.1L298.3 447.3L298.5 446.5L298.7 445.8L298.8 445.1L299.0 444.3L299.1 443.6L299.3 442.8L299.5 442.2L299.6 441.5L299.7 441.1 M300.0 440.0L300.2 439.3L300.3 438.6L300.5 437.9L300.7 437.2L300.9 436.5L301.1 435.7L301.3 435.0L301.5 434.2L301.7 433.4L301.9 432.6L302.1 431.8L302.3 431.1L302.5 430.3L302.8 429.5L303.0 428.7L303.2 427.9L303.4 427.2L303.6 426.4L303.9 425.6L304.1 424.9L304.3 424.1L304.5 423.4L304.7 422.7L304.9 422.0L305.1 421.3L305.4 420.6L305.6 419.9L305.8 419.2L306.0 418.5L306.2 417.8L306.4 417.1L306.7 416.4L307.0 415.6L307.2 415.0L307.5 414.3L307.8 413.6L308.1 412.9L308.3 412.2L308.6 411.6L309.0 410.8L309.4 410.1L309.8 409.4L310.1 408.8L310.5 408.2L311.0 407.6L311.4 407.0L311.9 406.4L312.5 405.9L313.0 405.4L313.6 405.0L314.2 404.5L314.9 404.3L315.6 404.4L316.2 404.8L316.8 405.3L317.4 405.8L317.8 406.4L318.3 407.0L318.8 407.6L319.2 408.2L319.6 408.9L319.9 409.6L320.2 410.2L320.5 411.0L320.8 411.8L321.1 412.4L321.3 413.1L321.5 413.8L321.8 414.6L322.0 415.3L322.2 416.0L322.4 416.7L322.6 417.4L322.9 418.1L323.1 418.8L323.3 419.5L323.6 420.2L323.8 420.8L324.0 421.5L324.3 422.2L324.5 422.9L324.7 423.6L324.9 424.3L325.2 425.1L325.4 425.8L325.6 426.5L325.8 427.2L326.0 427.9L326.2 428.6L326.4 429.3L326.6 430.0L326.8 430.7L327.0 431.5L327.2 432.2L327.4 432.9L327.6 433.7L327.8 434.4L328.0 435.1L328.1 435.8L328.3 436.5L328.5 437.2L328.7 437.9L328.8 438.6L329.0 439.3L329.2 440.0L329.3 440.7L329.5 441.5L329.7 442.2L329.9 442.9L330.0 443.5 M330.1 443.8L330.2 444.6L330.4 445.2L330.5 445.9L330.7 446.6L330.8 447.3L330.9 448.1L331.1 448.8L331.2 449.5L331.4 450.2L331.4 450.7 M332.1 454.7L332.2 455.4L332.3 456.0L332.5 456.8L332.6 457.6L332.7 458.4L332.8 459.2L333.0 460.0L333.1 460.7L333.2 461.4L333.4 462.1L333.5 462.9 M334.2 469.0L334.2 469.8L334.3 470.5L334.3 471.3L334.4 472.0L334.4 472.7L334.5 473.5L334.6 474.2L334.7 474.9L334.8 475.6L334.9 476.4L335.0 477.1L335.1 477.9L335.2 478.7L335.4 479.5L335.5 480.3L335.5 480.5 M336.2 484.5L336.3 485.3L336.5 486.1L336.6 486.8L336.7 487.6L336.8 488.3L337.0 489.1L337.1 489.8L337.2 490.5L337.3 491.3L337.4 492.0L337.6 492.7L337.6 492.9 M338.3 497.0L338.4 497.7L338.5 498.4L338.6 499.2L338.7 499.9L338.9 500.7L339.0 501.4L339.1 502.2L339.2 503.0L339.3 503.8L339.5 504.5L339.6 505.3L339.6 505.7 M340.3 510.0L340.4 510.8L340.5 511.6L340.7 512.3L340.8 513.1L340.9 513.8L341.0 514.5L341.1 515.2L341.2 516.0L341.3 516.7L341.4 517.4L341.5 518.1L341.6 518.9L341.7 519.4 M342.4 524.1L342.5 524.8L342.6 525.5L342.7 526.3L342.8 527.1L342.9 527.9L343.0 528.7L343.2 529.4L343.3 530.2L343.4 531.0L343.5 531.8L343.6 532.6L343.7 533.4 M344.4 537.4L344.6 538.1L344.7 538.8L344.9 539.6L345.1 540.4L345.2 541.2L345.4 541.9L345.6 542.7L345.8 543.4 M346.5 546.0L346.6 546.7L346.8 547.5L347.0 548.2L347.1 548.9L347.3 549.7L347.5 550.4L347.6 551.1L347.8 551.9L347.8 552.1 M348.5 555.4L348.6 556.1L348.8 557.0L348.9 557.7L349.1 558.5L349.2 559.3L349.3 560.1L349.4 561.0L349.5 561.8L349.7 562.6L349.8 563.5L349.9 564.1 M350.6 568.5L350.7 569.2L350.8 569.9L350.9 570.5L351.1 571.2L351.2 572.0L351.4 572.8L351.5 573.6L351.7 574.4L351.8 575.2L351.9 575.8 M352.6 579.6L352.8 580.4L352.9 581.2L353.0 582.0L353.2 582.8L353.3 583.6L353.5 584.3L353.6 585.1L353.8 585.9L353.9 586.7L354.0 587.1 M354.5 589.8L354.6 590.6L354.8 591.3L354.9 592.0L355.1 592.7L355.2 593.5L355.4 594.2L355.6 594.9L355.7 595.7L355.9 596.4L356.1 597.1L356.3 597.8L356.5 598.6L356.6 599.3L356.8 600.0L357.0 600.7L357.2 601.5L357.4 602.2L357.6 602.9L357.8 603.6L358.0 604.4L358.2 605.1L358.5 605.8L358.7 606.5L358.9 607.3L359.1 608.0L359.3 608.7L359.6 609.5L359.8 610.2L360.0 610.9L360.3 611.6L360.5 612.4L360.8 613.1L361.0 613.9L361.3 614.6L361.5 615.4L361.8 616.1L362.1 616.8L362.3 617.6L362.6 618.3L362.8 619.0L363.1 619.8L363.3 620.5L363.6 621.2L363.8 622.0L364.1 622.7L364.3 623.4L364.6 624.1L364.8 624.8L365.1 625.6L365.4 626.3L365.7 627.0L366.0 627.8L366.4 628.5L366.7 629.1L367.0 629.8L367.3 630.4L367.6 631.0L367.9 631.7L368.3 632.3L368.6 633.0L369.0 633.6L369.4 634.3L369.7 634.9L370.2 635.6L370.5 636.2L370.9 636.8L371.3 637.4L371.7 638.0L372.1 638.7L372.5 639.3L372.9 639.9L373.3 640.5L373.8 641.1L374.2 641.7L374.6 642.3L375.1 642.8L375.6 643.4L376.0 643.9L376.6 644.5L377.1 645.0L377.7 645.6L378.3 646.1L378.9 646.6L379.4 647.1L380.0 647.6L380.7 648.0L381.3 648.5L381.9 648.9L382.5 649.3L383.2 649.7L383.8 650.1L384.5 650.4L385.2 650.8L385.8 651.1L386.5 651.4L387.2 651.7L388.0 651.9L388.7 652.2L389.4 652.4L390.2 652.6L390.9 652.9L391.6 653.1L392.3 653.3L393.0 653.5L393.7 653.7L394.4 653.9L395.0 654.2L395.8 654.5L396.6 654.7L397.4 655.0L398.2 655.3L398.9 655.5L399.6 655.6L400.3 655.8L401.0 655.9L401.8 656.1L402.5 656.2L403.3 656.3L404.1 656.4L404.8 656.4L405.5 656.5L406.3 656.6L407.0 656.6L407.8 656.7L408.6 656.7L409.3 656.7L410.0 656.8L410.8 656.8L411.5 656.8L412.2 656.8L412.9 656.9L413.7 656.9L414.5 656.9L415.3 656.9L416.1 657.0L416.8 657.0L417.5 657.0L418.2 657.0L418.9 657.1L419.7 657.1L420.4 657.1L421.2 657.1L421.9 657.2L422.6 657.2L423.3 657.2L424.1 657.2L424.8 657.2L425.5 657.2L426.2 657.3L426.9 657.3L427.7 657.3L428.4 657.3L429.1 657.3L429.8 657.3L430.5 657.3L431.3 657.4L432.0 657.4L432.7 657.4L433.4 657.4L434.1 657.4L434.9 657.4L435.6 657.4L436.3 657.4L437.0 657.4L437.7 657.4L438.4 657.4L439.2 657.4L439.9 657.4L440.6 657.4L441.3 657.5L442.1 657.5L442.8 657.5L443.5 657.5L444.2 657.5L444.9 657.5L445.7 657.5L446.4 657.5L447.1 657.5L447.8 657.5L448.6 657.5L449.3 657.5L450.0 657.5L450.7 657.5L451.4 657.5L452.1 657.5L452.8 657.5L453.6 657.5L454.3 657.5L455.0 657.5L455.8 657.5L456.5 657.5L457.2 657.5L457.9 657.5L458.6 657.5L459.3 657.5L460.0 657.5L460.7 657.5L461.4 657.5L462.1 657.5L462.9 657.5L463.6 657.5L464.3 657.5L465.0 657.5L465.7 657.5L466.4 657.5L467.1 657.5L467.9 657.5L468.6 657.5L469.3 657.5L470.0 657.5L470.7 657.5L471.4 657.5L472.2 657.5L472.9 657.5L473.6 657.5L474.3 657.5L475.0 657.5L475.8 657.5L476.5 657.5L477.2 657.5L477.9 657.5L478.6 657.5L479.3 657.5L480.0 657.5L480.8 657.5L481.5 657.5L482.2 657.5L482.9 657.5L483.6 657.5L484.3 657.5L485.0 657.5L485.7 657.5L486.4 657.5L487.2 657.5L487.9 657.5L488.6 657.6L489.4 657.6L490.1 657.6L490.8 657.6L491.5 657.6L492.2 657.6L493.0 657.6L493.7 657.6L494.4 657.6L495.1 657.6L495.8 657.6L496.5 657.6L497.2 657.6L497.9 657.6L498.6 657.6L499.4 657.6L500.1 657.6L500.8 657.6L501.0 657.6" fill="none" stroke="#000" stroke-width="3.0" stroke-linejoin="round" stroke-linecap="butt"/>
<path d="M97.8 1046.6L97.8 1046.5L97.9 1046.5L97.9 1046.4L98.0 1046.3L98.0 1046.3L98.0 1046.2L98.1 1046.2L98.1 1046.1L98.2 1046.0L98.2 1046.0L98.2 1045.9L98.3 1045.8L98.3 1045.8L98.3 1045.7L98.4 1045.6L98.4 1045.5L98.4 1045.3L98.5 1045.2L98.5 1045.0L98.5 1044.8L98.5 1044.6L98.5 1044.4L98.6 1044.1L98.6 1043.9L98.6 1043.7L98.6 1043.4L98.6 1043.2L98.6 1042.9L98.6 1042.7L98.6 1042.4L98.6 1042.2L98.6 1041.9L98.6 1041.5L98.6 1041.1L98.6 1040.6L98.6 1040.2L98.6 1039.7L98.6 1039.2L98.6 1038.7L98.6 1038.1L98.6 1037.6L98.6 1037.1L98.7 1036.7L98.7 1036.2L98.7 1035.7L98.8 1035.3L98.8 1034.9L98.9 1034.6L98.9 1034.4L99.0 1034.2L99.0 1034.1L99.1 1033.9L99.2 1033.8L99.2 1033.6L99.3 1033.5L99.3 1033.4L99.4 1033.2L99.5 1033.1L99.6 1033.0L99.6 1032.8L99.7 1032.7L99.8 1032.6L99.9 1032.4L100.0 1032.3L100.1 1032.1L100.3 1031.9L100.4 1031.7L100.6 1031.6L100.8 1031.4L101.0 1031.2L101.2 1031.0L101.4 1030.8L101.5 1030.6L101.7 1030.4L101.9 1030.2L102.1 1030.0L102.3 1029.9L102.5 1029.7L102.7 1029.5L102.9 1029.3L103.1 1029.1L103.2 1029.0L103.4 1028.8L103.6 1028.6L103.8 1028.5L104.0 1028.3L104.2 1028.2L104.3 1028.0L104.5 1027.8L104.7 1027.7L104.9 1027.5L105.0 1027.3L105.2 1027.2L105.3 1027.0L105.5 1026.8L105.6 1026.6L105.7 1026.4L105.8 1026.2L105.9 1026.0L106.0 1025.8L106.1 1025.6L106.2 1025.3L106.3 1025.1L106.4 1024.9L106.5 1024.7L106.5 1024.4L106.6 1024.2L106.7 1023.9L106.8 1023.7L106.8 1023.4L106.9 1023.2L107.0 1022.9L107.1 1022.5L107.2 1022.1L107.4 1021.7L107.5 1021.3L107.6 1020.9L107.7 1020.4L107.9 1020.0L108.0 1019.5L108.1 1019.1L108.2 1018.6L108.4 1018.2L108.5 1017.7L108.6 1017.3L108.7 1016.8L108.9 1016.4L109.0 1016.0L109.1 1015.6L109.2 1015.2L109.4 1014.9L109.5 1014.5L109.6 1014.1L109.8 1013.8L109.9 1013.4L110.0 1013.1L110.1 1012.7L110.3 1012.4L110.4 1012.0L110.5 1011.6L110.6 1011.3L110.8 1010.9L110.9 1010.6L111.0 1010.2L111.1 1009.8L111.2 1009.5L111.3 1009.1L111.4 1008.8L111.5 1008.4L111.6 1008.1L111.7 1007.7L111.8 1007.4L111.9 1007.0L112.0 1006.6L112.1 1006.3L112.2 1005.9L112.3 1005.5L112.4 1005.2L112.5 1004.8L112.6 1004.4L112.7 1004.0L112.8 1003.5L112.9 1003.1L113.0 1002.6L113.0 1002.2L113.1 1001.7L113.2 1001.2L113.3 1000.7L113.4 1000.3L113.4 999.8L113.5 999.3L113.6 998.9L113.7 998.4L113.7 997.9L113.8 997.5L113.9 997.0L114.0 996.6L114.1 996.1L114.1 995.7L114.2 995.2L114.3 994.8L114.4 994.4L114.5 994.0L114.5 993.5L114.6 993.1L114.7 992.7L114.8 992.2L114.9 991.8L114.9 991.3L115.0 990.9L115.1 990.5L115.2 990.0L115.3 989.5L115.4 989.0L115.5 988.5L115.6 988.0L115.7 987.5L115.8 986.9L115.9 986.4L116.0 985.9L116.1 985.4L116.2 984.8L116.3 984.3L116.4 983.8L116.5 983.3L116.6 982.7L116.7 982.2L116.8 981.7L116.9 981.2L117.0 980.7L117.1 980.1L117.2 979.6L117.3 979.1L117.4 978.5L117.5 978.0L117.6 977.5L117.7 977.0L117.8 976.4L117.9 975.9L118.0 975.4L118.2 974.9L118.3 974.3L118.4 973.8L118.5 973.3L118.6 972.8L118.7 972.3L118.9 971.7L119.0 971.2L119.1 970.7L119.3 970.2L119.4 969.7L119.6 969.1L119.7 968.6L119.8 968.1L120.0 967.6L120.1 967.1L120.2 966.6L120.4 966.0L120.5 965.5L120.6 965.0L120.7 964.5L120.8 964.0L120.9 963.4L121.0 962.9L121.1 962.4L121.3 961.9L121.4 961.4L121.5 960.9L121.6 960.3L121.7 959.8L121.7 959.3L121.8 958.8L121.9 958.3L122.0 957.7L122.1 957.2L122.2 956.7L122.4 956.2L122.5 955.7L122.6 955.1L122.7 954.6L122.8 954.1L122.9 953.6L123.0 953.0L123.1 952.5L123.2 952.0L123.3 951.4L123.4 950.9L123.5 950.4L123.6 949.9L123.7 949.3L123.8 948.8L123.9 948.3L124.0 947.8L124.1 947.3L124.2 946.7L124.3 946.2L124.4 945.7L124.5 945.2L124.6 944.7L124.7 944.1L124.9 943.6L125.0 943.1L125.1 942.6L125.2 942.1L125.3 941.6L125.4 941.0L125.5 940.5L125.6 940.0L125.7 939.5L125.8 939.0L125.9 938.4L126.0 937.9L126.1 937.4L126.2 936.9L126.3 936.4L126.4 935.9L126.5 935.3L126.6 934.8L126.7 934.3L126.8 933.8L126.9 933.3L127.0 932.7L127.1 932.2L127.2 931.7L127.4 931.2L127.5 930.7L127.6 930.1L127.7 929.6L127.8 929.1L127.9 928.6L128.0 928.0L128.1 927.5L128.2 927.0L128.3 926.5L128.4 925.9L128.5 925.4L128.6 924.9L128.7 924.4L128.8 923.8L128.9 923.3L129.0 922.8L129.1 922.2L129.2 921.7L129.3 921.1L129.4 920.6L129.5 920.0L129.6 919.5L129.7 918.9L129.8 918.4L129.9 917.8L130.0 917.2L130.1 916.7L130.2 916.1L130.3 915.6L130.4 915.0L130.5 914.5L130.6 914.0L130.7 913.4L130.8 912.9L130.9 912.4L131.0 911.8L131.0 911.3L131.1 910.8L131.2 910.2L131.3 909.7L131.4 909.2L131.5 908.6L131.6 908.1L131.7 907.6L131.8 907.1L131.9 906.5L132.0 906.0L132.1 905.5L132.2 905.0L132.4 904.5L132.5 904.0L132.6 903.5L132.7 903.0L132.9 902.5L133.0 902.0L133.1 901.4L133.3 900.9L133.4 900.4L133.5 899.9L133.7 899.4L133.8 898.8L134.0 898.3L134.1 897.7L134.3 897.0L134.4 896.2L134.6 895.5L134.8 894.7L135.0 893.9L135.2 893.1L135.4 892.3L135.6 891.5L135.7 890.7L135.9 889.8L136.1 889.0L136.3 888.2L136.5 887.4L136.7 886.6L136.8 885.8L137.0 885.0L137.2 884.3L137.3 883.5L137.5 882.8L137.6 882.1L137.7 881.4L137.9 880.6L138.0 879.9L138.1 879.2L138.3 878.5L138.4 877.8L138.6 877.1L138.7 876.4L138.8 875.6L139.0 874.9L139.1 874.2L139.3 873.5L139.5 872.8L139.6 872.0L139.8 871.3L140.0 870.6L140.2 869.8L140.3 869.1L140.5 868.3L140.7 867.6L140.9 866.9L141.1 866.1L141.3 865.4L141.4 864.7L141.6 864.0L141.8 863.3L142.0 862.6L142.2 861.9L142.4 861.3L142.5 860.7L142.7 860.1L142.9 859.5L143.1 858.9L143.2 858.3L143.4 857.8L143.6 857.2L143.7 856.6L143.9 856.0L144.1 855.5L144.3 854.9L144.5 854.4L144.6 853.8L144.8 853.3L145.0 852.7L145.2 852.2L145.3 851.7L145.5 851.2L145.7 850.6L145.9 850.1L146.0 849.6L146.2 849.1L146.4 848.6L146.6 848.1L146.8 847.6L146.9 847.1L147.1 846.6L147.3 846.2L147.5 845.7L147.7 845.2L147.9 844.8L148.1 844.4L148.2 844.0L148.4 843.7L148.6 843.3L148.7 842.9L148.9 842.5L149.1 842.2L149.2 841.8L149.4 841.5L149.6 841.1L149.8 840.8L150.0 840.5L150.2 840.1L150.4 839.8L150.6 839.6L150.8 839.3L151.0 839.1L151.2 838.9L151.4 838.7L151.6 838.5L151.8 838.3L152.0 838.2L152.3 838.0L152.5 837.9L152.7 837.7L152.9 837.6L153.2 837.4L153.4 837.3L153.6 837.2L153.8 837.0L154.1 836.9L154.3 836.8L154.5 836.7L154.7 836.6L154.9 836.4L155.2 836.3L155.4 836.2L155.6 836.1L155.8 836.0L156.0 835.9L156.2 835.8L156.5 835.7L156.7 835.6L156.9 835.5L157.1 835.5L157.3 835.5L157.5 835.5L157.7 835.5L157.9 835.6L158.1 835.6L158.3 835.7L158.5 835.8L158.7 836.0L158.9 836.1L159.0 836.3L159.2 836.5L159.4 836.7L159.6 836.9L159.8 837.1L159.9 837.3L160.1 837.5L160.3 837.8L160.4 838.0L160.6 838.2L160.8 838.5L161.0 838.8L161.2 839.1L161.4 839.4L161.6 839.7L161.8 840.1L161.9 840.4L162.1 840.8L162.3 841.2L162.5 841.5L162.6 841.9L162.8 842.3L163.0 842.7L163.2 843.1L163.3 843.4L163.5 843.8L163.7 844.2L163.9 844.6L164.1 845.0L164.3 845.4L164.4 845.8L164.6 846.3L164.8 846.7L165.0 847.1L165.2 847.5L165.4 848.0L165.6 848.4L165.7 848.8L165.9 849.3L166.1 849.7L166.2 850.2L166.4 850.6L166.6 851.1L166.7 851.5L166.9 852.0L167.0 852.5L167.2 853.0L167.3 853.5L167.5 854.0L167.6 854.5L167.7 855.0L167.9 855.5L168.0 856.0L168.2 856.5L168.3 857.0L168.4 857.5L168.6 858.0L168.7 858.5L168.8 859.1L169.0 859.6L169.1 860.2L169.3 860.7L169.4 861.3L169.6 861.9L169.7 862.5L169.9 863.1L170.0 863.6L170.1 864.2L170.3 864.8L170.4 865.4L170.6 866.0L170.7 866.5L170.9 867.1L171.0 867.7L171.1 868.3L171.3 868.8L171.4 869.4L171.6 870.0L171.7 870.6L171.9 871.1L172.0 871.7L172.2 872.3L172.3 872.9L172.4 873.4L172.6 874.0L172.7 874.6L172.9 875.2L173.0 875.7L173.2 876.3L173.3 876.9L173.4 877.5L173.6 878.1L173.7 878.6L173.9 879.2L174.0 879.8L174.2 880.4L174.3 880.9L174.5 881.5L174.6 882.1L174.7 882.7L174.9 883.3L175.0 883.8L175.2 884.4L175.3 885.0L175.5 885.6L175.6 886.2L175.7 886.8L175.9 887.5L176.0 888.1L176.2 888.7L176.3 889.4L176.5 890.0L176.6 890.7L176.8 891.3L176.9 892.0L177.1 892.6L177.2 893.3L177.4 893.9L177.5 894.6L177.6 895.2L177.8 895.9L177.9 896.5L178.0 897.1L178.2 897.7L178.3 898.3L178.4 898.9L178.5 899.5L178.6 900.1L178.8 900.7L178.9 901.3L179.0 901.9L179.1 902.5L179.2 903.1L179.3 903.7L179.5 904.2L179.6 904.8L179.7 905.4L179.8 906.0L179.9 906.6L180.0 907.1L180.1 907.7L180.2 908.3L180.3 908.8L180.4 909.4L180.5 910.0L180.6 910.5L180.7 911.1L180.8 911.7L180.9 912.2L181.0 912.8L181.1 913.3L181.2 913.9L181.3 914.5L181.4 915.0L181.5 915.5L181.6 916.0L181.7 916.5L181.7 917.0L181.8 917.5L181.9 918.0L182.0 918.5L182.1 919.0L182.2 919.5L182.2 920.0L182.3 920.5L182.4 921.0L182.5 921.5L182.5 922.0L182.6 922.5L182.7 923.0L182.8 923.5L182.9 924.1L182.9 924.6L183.0 925.2L183.1 925.7L183.2 926.3L183.2 926.8L183.3 927.4L183.4 928.0L183.4 928.5L183.5 929.1L183.6 929.7L183.7 930.2L183.7 930.8L183.8 931.4L183.9 932.0L184.0 932.7L184.1 933.4L184.2 934.1L184.3 934.8L184.3 935.5L184.4 936.2L184.5 936.9L184.6 937.7L184.7 938.4L184.8 939.1L184.9 939.9L185.0 940.6L185.1 941.3L185.2 942.0L185.3 942.6L185.4 943.3L185.5 943.9L185.6 944.4L185.7 945.0L185.8 945.5L185.9 946.0L186.0 946.5L186.1 947.1L186.2 947.6L186.3 948.1L186.4 948.6L186.6 949.1L186.7 949.6L186.8 950.1L186.9 950.7L187.0 951.2L187.1 951.7L187.2 952.2L187.3 952.7L187.4 953.3L187.5 953.8L187.6 954.3L187.7 954.8L187.8 955.3L187.9 955.9L188.0 956.4L188.1 956.9L188.2 957.4L188.3 957.9L188.4 958.4L188.5 959.0L188.6 959.5L188.8 960.0L188.9 960.5L189.0 961.0L189.1 961.6L189.2 962.1L189.3 962.6L189.4 963.1L189.4 963.6L189.5 964.1L189.6 964.7L189.8 965.2L189.9 965.7L190.0 966.2L190.1 966.7L190.2 967.3L190.3 967.8L190.4 968.3L190.5 968.8L190.6 969.4L190.8 969.9L190.9 970.4L191.0 970.9L191.2 971.5L191.3 972.0L191.4 972.5L191.6 973.0L191.7 973.6L191.8 974.1L192.0 974.6L192.1 975.1L192.2 975.7L192.4 976.2L192.5 976.7L192.6 977.2L192.8 977.7L192.9 978.3L193.0 978.8L193.1 979.3L193.3 979.8L193.4 980.4L193.5 980.9L193.6 981.4L193.8 981.9L193.9 982.4L194.0 983.0L194.2 983.5L194.3 984.0L194.5 984.5L194.6 985.0L194.7 985.5L194.9 986.0L195.0 986.5L195.2 987.0L195.4 987.5L195.5 988.0L195.7 988.5L195.8 989.0L196.0 989.5L196.2 989.9L196.3 990.4L196.5 990.9L196.7 991.4L196.8 991.9L197.0 992.3L197.2 992.8L197.4 993.2L197.6 993.7L197.7 994.1L197.9 994.5L198.1 994.9L198.3 995.3L198.5 995.8L198.7 996.2L198.9 996.6L199.1 997.0L199.3 997.4L199.5 997.8L199.6 998.2L199.8 998.6L200.0 999.1L200.2 999.5L200.4 1000.0L200.6 1000.4L200.8 1000.9L200.9 1001.4L201.1 1001.8L201.3 1002.3L201.5 1002.8L201.6 1003.3L201.8 1003.8L202.0 1004.2L202.2 1004.7L202.4 1005.2L202.5 1005.7L202.7 1006.1L202.9 1006.6L203.1 1007.0L203.3 1007.4L203.4 1007.8L203.6 1008.1L203.8 1008.5L204.0 1008.9L204.1 1009.2L204.3 1009.6L204.5 1010.0L204.7 1010.3L204.8 1010.7L205.0 1011.0L205.2 1011.4L205.4 1011.7L205.6 1012.1L205.8 1012.4L206.0 1012.8L206.2 1013.2L206.4 1013.5L206.7 1013.9L206.9 1014.3L207.1 1014.7L207.4 1015.0L207.6 1015.4L207.8 1015.8L208.1 1016.1L208.3 1016.5L208.6 1016.9L208.9 1017.2L209.1 1017.6L209.4 1017.9L209.7 1018.3L210.0 1018.6L210.3 1019.0L210.6 1019.3L211.0 1019.6L211.3 1020.0L211.7 1020.3L212.0 1020.7L212.4 1021.0L212.7 1021.3L213.1 1021.6L213.5 1022.0L213.9 1022.3L214.2 1022.6L214.6 1022.9L215.0 1023.2L215.4 1023.5L215.8 1023.8L216.2 1024.1L216.6 1024.4L217.0 1024.7L217.5 1024.9L217.9 1025.2L218.3 1025.5L218.8 1025.7L219.2 1026.0L219.6 1026.3L220.1 1026.5L220.5 1026.8L221.0 1027.0L221.4 1027.3L221.8 1027.6L222.3 1027.8L222.7 1028.1L223.1 1028.4L223.6 1028.7L224.0 1028.9L224.4 1029.2L224.9 1029.5L225.3 1029.8L225.7 1030.1L226.2 1030.4L226.6 1030.7L227.0 1031.0L227.4 1031.3L227.9 1031.5L228.3 1031.8L228.7 1032.1L229.2 1032.4L229.6 1032.7L230.0 1033.0L230.5 1033.3L230.9 1033.6L231.3 1033.8L231.7 1034.1L232.2 1034.4L232.6 1034.7L233.0 1035.0L233.5 1035.3L233.9 1035.5L234.3 1035.8L234.8 1036.1L235.2 1036.4L235.6 1036.7L236.1 1036.9L236.5 1037.2L236.9 1037.5L237.4 1037.7L237.8 1038.0L238.2 1038.2L238.7 1038.5L239.1 1038.8L239.5 1039.0L240.0 1039.3L240.4 1039.5L240.9 1039.8L241.3 1040.0L241.7 1040.3L242.2 1040.5L242.6 1040.7L243.1 1041.0L243.5 1041.2L243.9 1041.4L244.4 1041.6L244.8 1041.9L245.2 1042.1L245.7 1042.3L246.1 1042.5L246.5 1042.7L247.0 1042.9L247.4 1043.1L247.8 1043.3L248.3 1043.5L248.7 1043.7L249.1 1043.9L249.6 1044.1L250.0 1044.2L250.4 1044.4L250.8 1044.5L251.1 1044.7L251.5 1044.8L251.8 1044.9L252.1 1045.0L252.5 1045.1L252.8 1045.2L253.2 1045.3L253.5 1045.4L253.8 1045.5L254.2 1045.6L254.5 1045.7L254.9 1045.8L255.2 1045.8L255.6 1045.9L256.0 1046.0L256.4 1046.1L256.9 1046.2L257.3 1046.2L257.8 1046.3L258.2 1046.4L258.6 1046.4L259.1 1046.5L259.5 1046.5L260.0 1046.6L260.5 1046.6L261.0 1046.7L261.6 1046.7L262.1 1046.8L262.7 1046.8L263.3 1046.9L264.0 1046.9L265.5 1047.0L267.1 1047.0L268.7 1047.1L270.5 1047.1L272.4 1047.2L274.3 1047.2L276.4 1047.2L278.6 1047.2L280.9 1047.2L283.2 1047.2L285.7 1047.2L288.4 1047.2L291.1 1047.3L293.9 1047.3L296.9 1047.3L300.0 1047.3L308.0 1047.4L317.1 1047.4L327.3 1047.5L338.3 1047.5L350.1 1047.6L362.6 1047.6L375.6 1047.7L389.0 1047.8L402.8 1047.8L416.8 1047.9L430.8 1047.9L444.8 1048.0L458.6 1048.0L472.2 1048.1L485.3 1048.1L498.0 1048.2" fill="none" stroke="#000" stroke-width="3.0" stroke-linejoin="round" stroke-linecap="round" />
<path d="M97.5 1046.8L98.2 1046.8L99.0 1046.7L99.7 1046.7L100.5 1046.6L101.2 1046.6L102.0 1046.5L102.7 1046.5L103.4 1046.4L104.2 1046.4L104.9 1046.3L105.7 1046.3L106.5 1046.3L107.2 1046.2L108.1 1046.2L108.8 1046.1L109.5 1046.1L110.3 1046.0L111.0 1046.0L111.7 1046.0L112.4 1045.9L113.1 1045.9L113.8 1045.9L114.6 1045.8L115.4 1045.8L116.1 1045.7L116.8 1045.7L117.7 1045.7L118.5 1045.6L119.3 1045.6L120.0 1045.6L120.7 1045.5L121.6 1045.5L122.4 1045.5L123.2 1045.5L124.0 1045.4L124.9 1045.4L125.6 1045.3L126.4 1045.3L127.1 1045.2L127.8 1045.1L128.5 1045.0L129.3 1045.0L130.1 1044.9L130.9 1044.8L131.6 1044.7L132.4 1044.5L133.3 1044.4L134.1 1044.3L134.8 1044.1L135.5 1044.0L136.2 1043.9L137.0 1043.7L137.7 1043.5L138.5 1043.3L139.3 1043.2L140.0 1043.0L140.7 1042.8L141.4 1042.6L142.1 1042.4L142.8 1042.2L143.5 1042.0L144.3 1041.8L145.0 1041.6L145.7 1041.4L146.5 1041.1L147.2 1040.9L147.9 1040.7L148.7 1040.5L149.4 1040.3L150.1 1040.0L150.8 1039.8L151.5 1039.6L152.2 1039.4L152.9 1039.1L153.7 1038.9L154.4 1038.6L155.1 1038.4L155.8 1038.2L156.5 1037.9L157.2 1037.7L157.8 1037.4L158.5 1037.1L159.2 1036.9L159.9 1036.6L160.6 1036.4L161.3 1036.1L161.9 1035.9L162.6 1035.6L163.3 1035.4L164.0 1035.1L164.7 1034.9L165.4 1034.6L166.0 1034.4L166.7 1034.1L167.4 1033.9L168.1 1033.6L168.8 1033.4L169.6 1033.1L170.3 1032.9L171.0 1032.7L171.7 1032.4L172.4 1032.2L173.1 1031.9L173.9 1031.7L174.6 1031.5L175.3 1031.2L176.0 1031.0L176.7 1030.8L177.4 1030.5L178.0 1030.3L178.7 1030.1L179.4 1029.8L180.2 1029.6L180.9 1029.3L181.7 1029.1L182.4 1028.9L183.2 1028.6L183.9 1028.4L184.6 1028.2L185.4 1028.0L186.1 1027.8L186.7 1027.5L187.4 1027.3L188.1 1027.0L188.8 1026.7L189.5 1026.4L190.1 1026.0L190.8 1025.5L191.3 1025.1L191.9 1024.6L192.4 1024.1L192.9 1023.6L193.4 1023.1L193.9 1022.6L194.4 1022.0L195.0 1021.4L195.5 1020.8L196.0 1020.2L196.5 1019.6L197.0 1018.9L197.5 1018.3L198.0 1017.7L198.5 1017.2L199.0 1016.7L199.5 1016.1L200.0 1015.5L200.6 1014.9L201.1 1014.4L201.6 1013.9L202.1 1013.4L202.6 1012.8L203.2 1012.2L203.7 1011.7L204.2 1011.1L204.8 1010.5L205.3 1009.9L205.8 1009.3L206.3 1008.7L206.7 1008.1L207.2 1007.6L207.6 1007.0L208.1 1006.3L208.6 1005.7L209.0 1005.1L209.4 1004.5L209.9 1003.9L210.3 1003.3L210.7 1002.7L211.1 1002.1L211.5 1001.5L211.9 1000.9L212.3 1000.3L212.7 999.6L213.1 999.1L213.6 998.4L214.0 997.7L214.4 997.0L214.8 996.3L215.2 995.6L215.6 994.9L216.0 994.2L216.4 993.5L216.8 992.8L217.2 992.0L217.6 991.3L218.0 990.6L218.4 989.9L218.7 989.2L219.1 988.5L219.5 987.8L219.8 987.1L220.2 986.4L220.5 985.7L220.9 984.9L221.2 984.2L221.6 983.5L221.9 982.8L222.3 982.1L222.6 981.4L222.9 980.7L223.2 980.1L223.6 979.4L223.9 978.6L224.2 977.9L224.5 977.2L224.8 976.5L225.1 975.8L225.3 975.1L225.6 974.4L225.9 973.7L226.1 973.0L226.4 972.3L226.6 971.6L226.9 970.9L227.1 970.2L227.4 969.5L227.6 968.8L227.8 968.1L228.1 967.4L228.3 966.7L228.5 965.9L228.7 965.2L229.0 964.5 M229.6 962.6L229.9 961.8L230.1 961.1L230.2 960.8 M231.7 956.4L231.9 955.7L232.1 955.0L232.3 954.4 M233.7 949.4L233.9 948.7L234.1 948.0L234.3 947.3L234.3 947.1 M235.8 942.3L236.0 941.6L236.2 940.9L236.4 940.2L236.4 940.1 M237.8 935.2L238.0 934.4L238.2 933.7L238.4 933.0 M239.9 927.9L240.1 927.2L240.3 926.4L240.5 925.9 M241.9 921.6L242.1 920.9L242.3 920.2L242.5 919.4L242.5 919.3 M244.0 910.5L244.1 909.7L244.2 909.0L244.4 908.2L244.5 907.4L244.6 907.0 M246.0 900.9L246.2 900.1L246.4 899.4L246.6 898.6L246.6 898.4 M248.1 892.6L248.3 891.8L248.4 891.1L248.6 890.4L248.7 890.2 M250.1 884.3L250.3 883.6L250.5 882.8L250.6 882.1L250.7 881.7 M252.2 876.5L252.4 875.8L252.6 875.1L252.8 874.7 M254.2 870.2L254.5 869.4L254.7 868.7L254.8 868.4 M256.3 864.8L256.6 864.2L256.9 863.8 M258.0 861.9L258.5 861.3L259.0 860.8L259.5 860.2L260.1 859.7L260.7 859.3L261.3 859.0L262.1 858.8L262.8 858.7L263.5 858.8L264.3 859.0L264.9 859.3L265.6 859.6L266.2 860.1L266.8 860.5L267.3 861.0L267.8 861.5L268.3 862.1L268.8 862.6L269.3 863.2L269.8 863.8L270.2 864.4L270.6 865.1L271.0 865.8L271.4 866.5L271.7 867.2L272.1 867.9L272.4 868.6L272.8 869.3L273.1 870.0L273.5 870.7L273.9 871.5L274.2 872.2L274.6 872.9L274.9 873.6L275.3 874.4L275.6 875.1L275.9 875.8L276.0 876.0 M277.1 879.2L277.4 879.9L277.4 880.1 M278.8 884.8L279.0 885.6L279.1 886.0 M280.5 892.0L280.7 892.8L280.8 893.6 M282.2 900.2L282.4 900.9L282.5 901.6 M283.9 907.4L284.1 908.2L284.2 908.7 M285.6 914.1L285.8 915.0L285.9 915.3 M287.3 920.8L287.5 921.7L287.6 922.2 M289.0 927.9L289.2 928.7L289.3 929.0 M290.7 934.6L291.0 935.5L291.0 935.8 M292.4 941.3L292.7 942.2L292.7 942.5 M294.1 948.5L294.3 949.4L294.4 950.2 M295.8 956.1L296.0 956.9L296.1 957.2 M297.5 961.9L297.8 962.7L297.8 962.9 M299.2 967.6L299.4 968.3L299.5 968.5 M300.9 973.4L301.1 974.2L301.2 974.6 M302.6 980.4L302.8 981.2L302.9 981.6 M304.3 986.7L304.5 987.4L304.6 987.8 M306.0 992.6L306.2 993.3L306.4 994.1L306.6 994.8L306.8 995.5L307.0 996.2L307.2 996.9L307.4 997.6L307.6 998.3L307.9 999.0L308.1 999.7L308.3 1000.4L308.6 1001.1L308.8 1001.8L309.1 1002.5L309.4 1003.2L309.6 1003.9L309.9 1004.6L310.1 1005.3L310.4 1006.0L310.7 1006.7L311.0 1007.4L311.2 1008.1L311.5 1008.8L311.8 1009.5L312.1 1010.2L312.4 1010.9L312.7 1011.6L313.0 1012.3L313.3 1013.0L313.6 1013.7L313.9 1014.4L314.2 1015.1L314.5 1015.8L314.9 1016.5L315.2 1017.1L315.6 1017.8L315.9 1018.5L316.3 1019.2L316.6 1019.9L317.0 1020.6L317.4 1021.3L317.7 1021.9L318.1 1022.5L318.4 1023.1L318.8 1023.7L319.1 1024.4L319.5 1025.0L319.9 1025.6L320.2 1026.1L320.7 1026.8L321.1 1027.5L321.5 1028.1L322.0 1028.7L322.4 1029.3L322.9 1029.9L323.3 1030.4L323.8 1031.0L324.3 1031.6L324.7 1032.1L325.2 1032.7L325.7 1033.2L326.2 1033.8L326.7 1034.3L327.2 1034.9L327.7 1035.4L328.2 1035.9L328.8 1036.5L329.3 1037.0L329.8 1037.5L330.4 1037.9L330.9 1038.4L331.5 1038.9L332.2 1039.4L332.8 1039.9L333.5 1040.4L334.3 1040.9L335.0 1041.4L335.7 1041.9L336.3 1042.2L337.0 1042.6L337.7 1042.9L338.3 1043.2L339.0 1043.6L339.7 1043.9L340.5 1044.2L341.2 1044.4L341.9 1044.7L342.6 1044.9L343.3 1045.1L344.0 1045.3L344.8 1045.5L345.6 1045.7L346.4 1045.8L347.2 1045.9L348.1 1046.1L348.8 1046.1L349.6 1046.2L350.3 1046.3L351.0 1046.4L351.8 1046.4L352.5 1046.5L353.3 1046.6L354.1 1046.6L354.8 1046.7L355.5 1046.7L356.3 1046.7L357.0 1046.8L357.8 1046.8L358.6 1046.8L359.3 1046.9L360.1 1046.9L360.8 1046.9L361.6 1047.0L362.3 1047.0L363.1 1047.0L363.9 1047.0L364.7 1047.1L365.4 1047.1L366.1 1047.1L366.9 1047.1L367.6 1047.1L368.4 1047.2L369.2 1047.2L370.0 1047.2L370.7 1047.2L371.5 1047.2L372.2 1047.3L372.9 1047.3L373.6 1047.3L374.3 1047.3L375.0 1047.3L375.7 1047.3L376.4 1047.3L377.1 1047.4L377.9 1047.4L378.6 1047.4L379.3 1047.4L380.0 1047.4L380.7 1047.4L381.5 1047.4L382.2 1047.4L382.9 1047.4L383.6 1047.5L384.4 1047.5L385.1 1047.5L385.8 1047.5L386.5 1047.5L387.2 1047.5L387.9 1047.5L388.6 1047.5L389.3 1047.5L390.0 1047.5L390.7 1047.5L391.4 1047.6L392.2 1047.6L392.9 1047.6L393.6 1047.6L394.3 1047.6L395.0 1047.6L395.8 1047.6L396.5 1047.6L397.2 1047.6L397.9 1047.6L398.6 1047.6L399.3 1047.6L400.1 1047.6L400.8 1047.6L401.5 1047.6L402.2 1047.7L402.9 1047.7L403.6 1047.7L404.3 1047.7L405.0 1047.7L405.7 1047.7L406.4 1047.7L407.1 1047.7L407.8 1047.7L408.6 1047.7L409.3 1047.7L410.0 1047.7L410.7 1047.7L411.4 1047.7L412.1 1047.7L412.8 1047.7L413.5 1047.7L414.3 1047.7L415.0 1047.7L415.7 1047.8L416.4 1047.8L417.1 1047.8L417.8 1047.8L418.6 1047.8L419.3 1047.8L420.0 1047.8L420.7 1047.8L421.4 1047.8L422.1 1047.8L422.9 1047.8L423.6 1047.8L424.3 1047.8L425.0 1047.8L425.7 1047.8L426.4 1047.8L427.1 1047.8L427.8 1047.8L428.5 1047.8L429.2 1047.8L430.0 1047.8L430.7 1047.8L431.4 1047.8L432.1 1047.8L432.8 1047.8L433.5 1047.9L434.3 1047.9L435.0 1047.9L435.7 1047.9L436.4 1047.9L437.1 1047.9L437.8 1047.9L438.5 1047.9L439.2 1047.9L439.9 1047.9L440.6 1047.9L441.3 1047.9L442.0 1047.9L442.7 1047.9L443.5 1047.9L444.2 1047.9L444.9 1047.9L445.6 1047.9L446.3 1047.9L447.0 1047.9L447.7 1047.9L448.4 1047.9L449.1 1047.9L449.9 1047.9L450.6 1047.9L451.3 1047.9L452.0 1047.9L452.7 1047.9L453.4 1047.9L454.1 1047.9L454.8 1048.0L455.6 1048.0L456.3 1048.0L457.0 1048.0L457.7 1048.0L458.4 1048.0L459.1 1048.0L459.8 1048.0L460.5 1048.0L461.2 1048.0L462.0 1048.0L462.7 1048.0L463.4 1048.0L464.1 1048.0L464.8 1048.0L465.5 1048.0L466.2 1048.0L466.9 1048.0L467.6 1048.0L468.3 1048.0L469.0 1048.0L469.7 1048.0L470.4 1048.0L471.1 1048.0L471.8 1048.0L472.5 1048.0L473.3 1048.0L474.0 1048.0L474.7 1048.1L475.4 1048.1L476.1 1048.1L476.8 1048.1L477.5 1048.1L478.2 1048.1L478.9 1048.1L479.6 1048.1L480.3 1048.1L481.0 1048.1L481.7 1048.1L482.5 1048.1L483.2 1048.1L483.9 1048.1L484.6 1048.1L485.3 1048.1L486.0 1048.1L486.7 1048.1L487.4 1048.1L488.1 1048.1L488.8 1048.1L489.5 1048.1L490.2 1048.1L491.0 1048.1L491.7 1048.2L492.4 1048.2L493.1 1048.2L493.8 1048.2L494.6 1048.2L495.3 1048.2L496.0 1048.2L496.7 1048.2L497.4 1048.2L498.0 1048.2" fill="none" stroke="#000" stroke-width="3.0" stroke-linejoin="round" stroke-linecap="square"/>
<path d="M97.5 1046.8L98.2 1046.8L99.0 1046.7L99.7 1046.7L100.5 1046.7L101.2 1046.6L102.0 1046.6L102.7 1046.5L103.4 1046.5L104.2 1046.5L104.9 1046.4L105.7 1046.4L106.5 1046.4L107.2 1046.3L108.1 1046.3L108.9 1046.2L109.7 1046.2L110.6 1046.2L111.3 1046.1L112.0 1046.1L112.7 1046.1L113.4 1046.0L114.1 1046.0L114.8 1046.0L115.6 1045.9L116.3 1045.9L117.0 1045.8L117.7 1045.8L118.5 1045.7L119.2 1045.7L120.0 1045.6L120.7 1045.6L121.4 1045.5L122.2 1045.5L122.9 1045.4L123.7 1045.3L124.4 1045.3L125.2 1045.2L126.0 1045.2L126.7 1045.1L127.5 1045.0L128.3 1044.9L129.1 1044.9L129.9 1044.8L130.7 1044.7L131.5 1044.6L132.2 1044.5L133.0 1044.4L133.8 1044.3L134.6 1044.1L135.3 1044.0L136.1 1043.9L136.8 1043.7L137.5 1043.6L138.3 1043.4L139.0 1043.3L139.7 1043.1L140.4 1042.9L141.2 1042.7L141.9 1042.5L142.6 1042.3L143.3 1042.1L144.0 1041.9L144.7 1041.7L145.5 1041.5L146.2 1041.3L146.9 1041.1L147.6 1040.8L148.3 1040.6L149.0 1040.4L149.7 1040.2L150.4 1040.0L151.0 1039.7L151.7 1039.5L152.4 1039.3L153.2 1039.0L153.9 1038.8L154.6 1038.6L155.3 1038.3L156.0 1038.1L156.7 1037.8L157.4 1037.6L158.1 1037.3L158.8 1037.1L159.4 1036.8L160.1 1036.6L160.8 1036.3L161.5 1036.0L162.2 1035.8L162.8 1035.5L163.5 1035.3L164.2 1035.0L164.9 1034.8L165.6 1034.5L166.3 1034.3L167.0 1034.0L167.7 1033.8L168.4 1033.5L169.1 1033.3L169.8 1033.0L170.5 1032.8L171.2 1032.5L171.9 1032.3L172.7 1032.0L173.4 1031.8L174.1 1031.6L174.8 1031.3L175.5 1031.1L176.2 1030.8L176.9 1030.6L177.6 1030.4L178.2 1030.2L179.0 1029.9L179.8 1029.7L180.5 1029.5L181.3 1029.2L182.0 1029.0L182.8 1028.8L183.5 1028.5L184.2 1028.3L184.9 1028.1L185.6 1027.9L186.3 1027.7L187.1 1027.5L187.8 1027.3L188.6 1027.2L189.3 1027.0L190.0 1026.9L190.8 1026.9L191.6 1026.8L192.4 1026.8L193.1 1026.8L193.9 1026.8L194.7 1026.8L195.4 1026.8L196.1 1026.8L196.9 1026.8L197.6 1026.8L198.3 1026.8L199.1 1026.8L199.8 1026.8L200.5 1026.9L201.2 1027.0L201.9 1027.1L202.7 1027.2L203.4 1027.3L204.1 1027.5L204.8 1027.7L205.5 1027.8L206.2 1028.0L206.9 1028.2L207.7 1028.4L208.4 1028.6L209.1 1028.8L209.8 1029.0L210.6 1029.2L211.3 1029.5L212.0 1029.7L212.7 1030.0L213.5 1030.2L214.2 1030.5L214.9 1030.8L215.6 1031.1L216.4 1031.4L217.1 1031.6L217.8 1031.9L218.5 1032.1L219.2 1032.4L219.9 1032.6L220.7 1032.8L221.4 1033.0L222.1 1033.2L222.8 1033.3L223.5 1033.5L224.2 1033.7L225.0 1033.9L225.7 1034.1L226.4 1034.2L227.1 1034.4L227.9 1034.6L228.6 1034.7L229.3 1034.9L230.0 1035.1L230.8 1035.3L231.5 1035.5L232.2 1035.8L232.9 1036.0L233.7 1036.2L234.4 1036.4L235.1 1036.6L235.8 1036.8L236.6 1037.0L237.3 1037.2L238.0 1037.4L238.7 1037.6L239.5 1037.8L240.2 1038.0L240.9 1038.1L241.6 1038.3L242.3 1038.4L243.1 1038.5L243.8 1038.7L244.5 1038.8L245.2 1038.9L245.9 1039.0L246.8 1039.1L247.5 1039.2L248.2 1039.3L249.0 1039.4L249.8 1039.4L250.6 1039.5L251.4 1039.6L252.1 1039.7L252.9 1039.7L253.6 1039.8L254.4 1039.8L255.1 1039.8L255.9 1039.8L256.8 1039.7L257.5 1039.5L258.2 1039.4L258.9 1039.2L259.6 1039.0L260.4 1038.7L261.1 1038.5L261.8 1038.2L262.5 1037.8L263.3 1037.4L264.0 1037.0L264.8 1036.5L265.5 1036.1L266.2 1035.6L266.9 1035.1L267.6 1034.6L268.2 1034.1L268.8 1033.7L269.4 1033.2L269.9 1032.7L270.5 1032.2L271.1 1031.7L271.6 1031.1L272.1 1030.6L272.6 1030.0L273.1 1029.5L273.5 1028.9L274.0 1028.4L274.4 1027.8L274.8 1027.2L275.2 1026.6L275.5 1025.9L275.9 1025.2L276.2 1024.5L276.5 1023.8L276.7 1023.1L277.0 1022.3L277.3 1021.6L277.5 1020.8L277.8 1020.1L278.1 1019.4L278.4 1018.7L278.7 1018.0L279.0 1017.2L279.3 1016.5L279.6 1015.8L279.8 1015.1L279.9 1014.8 M281.2 1011.0L281.4 1010.3L281.6 1009.8 M283.1 1005.4L283.3 1004.7L283.5 1004.2 M285.0 999.2L285.2 998.6L285.4 997.9L285.4 997.7 M286.9 991.3L287.1 990.6L287.2 989.8L287.3 989.3 M288.8 981.9L289.0 981.2L289.1 980.4L289.2 979.9 M290.7 972.5L290.8 971.7L290.9 971.0L291.0 970.3L291.1 969.6L291.1 969.4 M292.6 960.8L292.7 960.1L292.8 959.3L292.9 958.6L293.0 957.9 M294.5 948.0L294.6 947.2L294.7 946.5L294.9 945.7L294.9 945.2 M296.4 936.5L296.6 935.7L296.7 934.9L296.8 934.2 M298.3 925.3L298.4 924.6L298.5 923.8L298.6 923.1L298.7 922.3 M300.2 912.4L300.3 911.6L300.5 910.7L300.6 909.9L300.6 909.5 M302.1 898.0L302.2 897.3L302.3 896.5L302.4 895.8L302.5 895.1 M304.0 886.0L304.1 885.2L304.2 884.4L304.3 883.7L304.4 882.9L304.4 882.8 M305.9 872.4L306.0 871.6L306.2 870.8L306.3 870.0L306.3 869.7 M307.8 862.4L308.0 861.6L308.1 860.9L308.2 860.5 M309.7 853.7L309.9 853.0L310.0 852.2L310.1 851.9 M311.6 845.3L311.8 844.6L311.9 843.9L312.0 843.3 M313.5 837.7L313.8 837.0L313.9 836.7 M315.4 833.3L315.8 832.6 M317.3 829.9L317.7 829.4 M318.0 829.1L318.6 828.6L319.2 828.1L319.8 827.8L320.5 827.6L321.2 827.8L321.8 828.2L322.4 828.6L322.8 829.1L323.0 829.3 M323.8 830.6L323.8 830.6 M325.5 834.7L325.5 834.7 M327.3 839.7L327.3 839.7 M329.0 844.8L329.1 844.8 M330.8 850.2L330.8 850.2 M332.5 858.7L332.5 858.7 M334.3 867.1L334.3 867.3 M336.0 877.8L336.0 877.9 M337.8 886.5L337.8 886.6 M339.5 894.6L339.5 894.8 M341.2 903.3L341.3 903.5 M343.0 912.6L343.0 912.8 M344.8 920.7L344.8 920.7 M346.5 928.2L346.5 928.3 M348.3 939.7L348.3 939.8 M350.0 949.2L350.0 949.2 M351.8 958.2L351.8 958.4 M353.5 966.0L353.6 966.0 M355.3 973.7L355.3 973.7 M357.0 980.1L357.0 980.1 M358.8 986.8L358.8 986.8 M360.5 993.9L360.5 993.9 M362.3 999.7L362.3 999.7 M364.0 1004.4L364.0 1004.4 M365.8 1009.0L365.8 1009.0 M367.5 1013.6L367.5 1013.7 M369.3 1017.8L369.3 1017.8 M371.0 1022.2L371.0 1022.2 M372.0 1024.5L372.3 1025.2L372.6 1025.8L372.9 1026.5L373.2 1027.2L373.6 1027.9L373.9 1028.6L374.3 1029.4L374.6 1030.1L375.0 1030.8L375.4 1031.6L375.8 1032.3L376.2 1033.0L376.6 1033.7L377.0 1034.3L377.4 1035.0L377.8 1035.7L378.2 1036.3L378.7 1036.9L379.1 1037.5L379.6 1038.1L380.1 1038.7L380.6 1039.2L381.1 1039.7L381.6 1040.2L382.1 1040.7L382.6 1041.2L383.2 1041.6L383.8 1042.2L384.5 1042.6L385.1 1043.1L385.8 1043.6L386.5 1044.0L387.2 1044.4L388.0 1044.7L388.6 1045.0L389.4 1045.3L390.2 1045.6L390.8 1045.8L391.5 1046.0L392.3 1046.2L393.1 1046.4L393.8 1046.5L394.5 1046.6L395.2 1046.7L396.0 1046.8L396.7 1046.9L397.5 1047.0L398.3 1047.0L399.0 1047.1L399.8 1047.1L400.6 1047.2L401.4 1047.2L402.1 1047.2L402.8 1047.3L403.6 1047.3L404.4 1047.3L405.1 1047.3L405.8 1047.4L406.6 1047.4L407.3 1047.4L408.0 1047.4L408.8 1047.5L409.6 1047.5L410.3 1047.5L411.0 1047.5L411.8 1047.6L412.5 1047.6L413.2 1047.6L413.9 1047.6L414.6 1047.6L415.3 1047.6L416.1 1047.7L416.8 1047.7L417.5 1047.7L418.3 1047.7L419.0 1047.7L419.7 1047.7L420.4 1047.7L421.1 1047.8L421.8 1047.8L422.6 1047.8L423.3 1047.8L424.0 1047.8L424.7 1047.8L425.4 1047.8L426.2 1047.8L426.9 1047.8L427.6 1047.8L428.3 1047.8L429.0 1047.9L429.7 1047.9L430.4 1047.9L431.1 1047.9L431.8 1047.9L432.6 1047.9L433.3 1047.9L434.0 1047.9L434.7 1047.9L435.4 1047.9L436.1 1047.9L436.8 1047.9L437.5 1047.9L438.3 1047.9L439.0 1047.9L439.7 1047.9L440.4 1047.9L441.1 1047.9L441.9 1048.0L442.6 1048.0L443.3 1048.0L444.0 1048.0L444.7 1048.0L445.4 1048.0L446.2 1048.0L446.9 1048.0L447.6 1048.0L448.3 1048.0L449.0 1048.0L449.7 1048.0L450.4 1048.0L451.1 1048.0L451.8 1048.0L452.5 1048.0L453.3 1048.0L454.0 1048.0L454.7 1048.0L455.4 1048.0L456.1 1048.0L456.8 1048.0L457.6 1048.0L458.3 1048.0L459.0 1048.0L459.7 1048.0L460.5 1048.0L461.2 1048.0L461.9 1048.0L462.6 1048.0L463.4 1048.0L464.1 1048.0L464.8 1048.0L465.5 1048.0L466.3 1048.1L467.0 1048.1L467.7 1048.1L468.4 1048.1L469.2 1048.1L469.9 1048.1L470.6 1048.1L471.4 1048.1L472.1 1048.1L472.8 1048.1L473.5 1048.1L474.2 1048.1L475.0 1048.1L475.7 1048.1L476.4 1048.1L477.1 1048.1L477.8 1048.1L478.6 1048.1L479.3 1048.1L480.0 1048.1L480.7 1048.1L481.4 1048.1L482.1 1048.1L482.8 1048.1L483.5 1048.1L484.2 1048.1L485.0 1048.1L485.7 1048.1L486.4 1048.1L487.1 1048.1L487.9 1048.1L488.6 1048.1L489.3 1048.1L490.0 1048.1L490.7 1048.2L491.4 1048.2L492.2 1048.2L492.9 1048.2L493.6 1048.2L494.3 1048.2L495.1 1048.2L495.8 1048.2L496.5 1048.2L497.2 1048.2L497.9 1048.2L498.0 1048.2" fill="none" stroke="#000" stroke-width="3.0" stroke-linejoin="round" stroke-linecap="square"/>
<g transform="translate(22.62,185.31) rotate(-90) scale(1.0066,1.0863)"><text font-family="Liberation Sans" font-size="17.5" >Frequency</text></g>
<g transform="translate(15.22,556.42) rotate(-90) scale(1.0103,1.0863)"><text font-family="Liberation Sans" font-size="17.5" >Frequency</text></g>
<g transform="translate(21.62,954.31) rotate(-90) scale(1.0066,1.0863)"><text font-family="Liberation Sans" font-size="17.5" >Frequency</text></g>
<g transform="translate(192.61,302.79) scale(1.0415,1.0042)"><text font-family="Liberation Sans" font-size="17" >Log Fluorescence Intensity</text></g>
<g transform="translate(191.63,683.81) scale(1.0276,0.9979)"><text font-family="Liberation Sans" font-size="17" >Log Fluorescence Intensity</text></g>
<g transform="translate(191.43,1073.70) scale(1.0241,1.0295)"><text font-family="Liberation Sans" font-size="17" >Log Fluorescence Intensity</text></g>
<g transform="translate(122.20,24.70) scale(0.9000,1.0571)"><text font-family="Liberation Sans" font-size="20" stroke="#fff" stroke-width="0.18">IL3R</text></g>
<g transform="translate(159.54,24.90) scale(1.3585,1.0821)"><text font-family="Liberation Serif" font-size="20" stroke="#fff" stroke-width="0.45">α</text></g>
<g transform="translate(195.34,25.00) scale(1.2367,1.0465)"><text font-family="Liberation Sans" font-size="20" stroke="#fff" stroke-width="0.18">h</text></g>
<g transform="translate(208.43,25.29) scale(0.9164,1.0270)"><text font-family="Liberation Sans" font-size="20" stroke="#fff" stroke-width="0.18">β</text></g>
<g transform="translate(132.63,404.90) scale(0.8872,1.0214)"><text font-family="Liberation Sans" font-size="20" stroke="#fff" stroke-width="0.18">IL3R</text></g>
<g transform="translate(176.14,405.18) scale(0.9882,1.0741)"><text font-family="Liberation Sans" font-size="20" stroke="#fff" stroke-width="0.18">ΔN</text></g>
<g transform="translate(226.10,405.00) scale(1.2000,0.9977)"><text font-family="Liberation Sans" font-size="20" stroke="#fff" stroke-width="0.18">h</text></g>
<g transform="translate(238.74,405.68) scale(0.9709,1.0054)"><text font-family="Liberation Sans" font-size="20" stroke="#fff" stroke-width="0.18">β</text></g>
<g transform="translate(127.01,791.70) scale(0.8974,1.0786)"><text font-family="Liberation Sans" font-size="20" stroke="#fff" stroke-width="0.18">IL3R</text></g>
<g transform="translate(170.49,791.87) scale(0.9083,1.0370)"><text font-family="Liberation Sans" font-size="20" stroke="#fff" stroke-width="0.18">Δ</text></g>
<g transform="translate(181.63,791.43) scale(1.0438,1.0444)"><text font-family="Liberation Serif" font-size="20" >CT</text></g>
<g transform="translate(231.24,791.60) scale(1.2367,1.0116)"><text font-family="Liberation Sans" font-size="20" stroke="#fff" stroke-width="0.18">h</text></g>
<g transform="translate(243.73,792.01) scale(1.0473,1.0216)"><text font-family="Liberation Sans" font-size="20" stroke="#fff" stroke-width="0.18">β</text></g>
<g transform="translate(232.75,61.23) scale(0.9818,1.0364)"><text font-family="Liberation Serif" font-size="18" stroke="#000" stroke-width="0.15">β</text></g>
<g transform="translate(311.14,56.42) scale(1.2960,1.0846)"><text font-family="Liberation Serif" font-size="18" >α</text></g>
<g transform="translate(364.63,438.31) scale(1.0909,1.0667)"><text font-family="Liberation Serif" font-size="18" stroke="#000" stroke-width="0.15">β</text></g>
<g transform="translate(188.16,474.62) scale(1.2600,1.0731)"><text font-family="Liberation Serif" font-size="18" >α</text></g>
<g transform="translate(282.51,861.08) scale(1.1045,1.0485)"><text font-family="Liberation Serif" font-size="18" stroke="#000" stroke-width="0.15">β</text></g>
<g transform="translate(345.24,860.22) scale(1.2960,1.0846)"><text font-family="Liberation Serif" font-size="18" >α</text></g>
</svg></body></html>
